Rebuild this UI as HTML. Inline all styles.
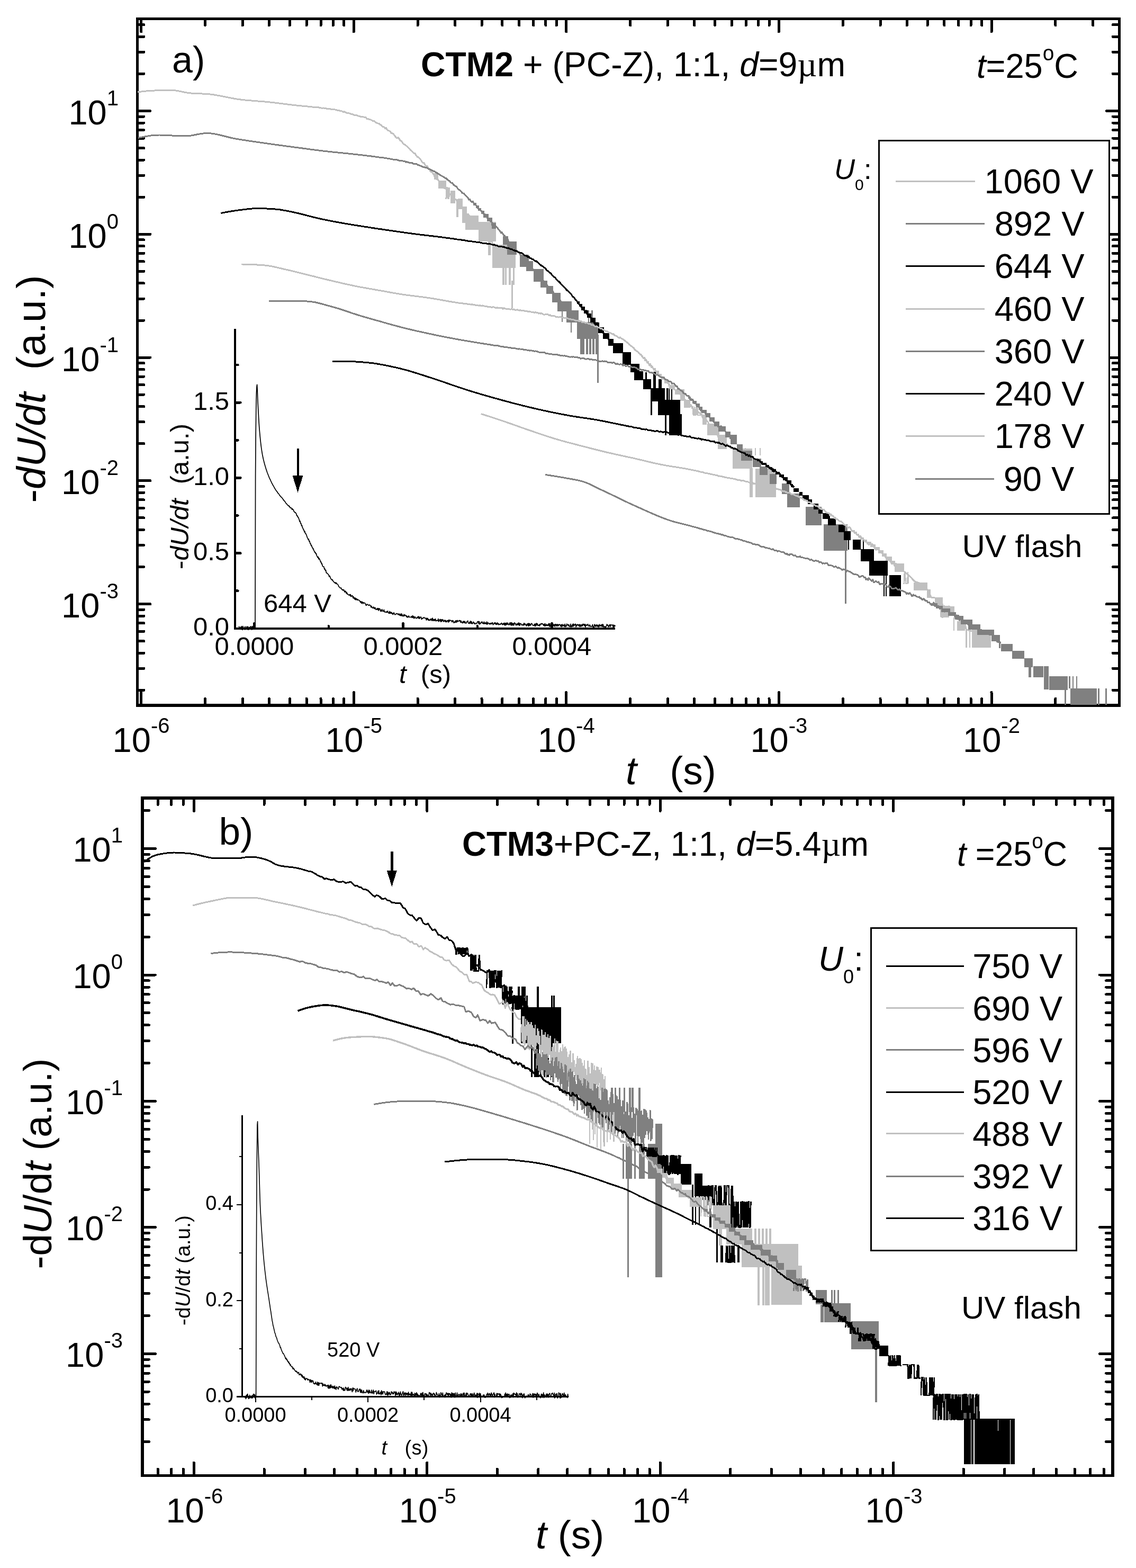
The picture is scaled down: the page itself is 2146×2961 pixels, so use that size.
<!DOCTYPE html>
<html><head><meta charset="utf-8"><title>Figure</title>
<style>html,body{margin:0;padding:0;background:#fff;overflow:hidden}svg{display:block}</style></head>
<body><svg width="2146" height="2961" viewBox="0 0 2146 2961" font-family='"Liberation Sans", Arial, Helvetica, sans-serif' fill="#000" shape-rendering="crispEdges">
<rect width="2146" height="2961" fill="#fff"/>
<rect x="259.5" y="35.5" width="1855" height="1296.3" fill="none" stroke="#000" stroke-width="5.5"/>
<path d="M266.6 1330v-22.5M266.6 37.2v22.5M387.5 1330v-10.5M387.5 37.2v10.5M458.2 1330v-10.5M458.2 37.2v10.5M508.4 1330v-10.5M508.4 37.2v10.5M547.3 1330v-10.5M547.3 37.2v10.5M579.1 1330v-10.5M579.1 37.2v10.5M606 1330v-10.5M606 37.2v10.5M629.3 1330v-10.5M629.3 37.2v10.5M649.8 1330v-10.5M649.8 37.2v10.5M668.2 1330v-22.5M668.2 37.2v22.5M789.1 1330v-10.5M789.1 37.2v10.5M859.8 1330v-10.5M859.8 37.2v10.5M910 1330v-10.5M910 37.2v10.5M948.9 1330v-10.5M948.9 37.2v10.5M980.7 1330v-10.5M980.7 37.2v10.5M1007.6 1330v-10.5M1007.6 37.2v10.5M1030.9 1330v-10.5M1030.9 37.2v10.5M1051.4 1330v-10.5M1051.4 37.2v10.5M1069.8 1330v-22.5M1069.8 37.2v22.5M1190.7 1330v-10.5M1190.7 37.2v10.5M1261.4 1330v-10.5M1261.4 37.2v10.5M1311.6 1330v-10.5M1311.6 37.2v10.5M1350.5 1330v-10.5M1350.5 37.2v10.5M1382.3 1330v-10.5M1382.3 37.2v10.5M1409.2 1330v-10.5M1409.2 37.2v10.5M1432.5 1330v-10.5M1432.5 37.2v10.5M1453 1330v-10.5M1453 37.2v10.5M1471.4 1330v-22.5M1471.4 37.2v22.5M1592.3 1330v-10.5M1592.3 37.2v10.5M1663 1330v-10.5M1663 37.2v10.5M1713.2 1330v-10.5M1713.2 37.2v10.5M1752.1 1330v-10.5M1752.1 37.2v10.5M1783.9 1330v-10.5M1783.9 37.2v10.5M1810.8 1330v-10.5M1810.8 37.2v10.5M1834.1 1330v-10.5M1834.1 37.2v10.5M1854.6 1330v-10.5M1854.6 37.2v10.5M1873 1330v-22.5M1873 37.2v22.5M1993.9 1330v-10.5M1993.9 37.2v10.5M2064.6 1330v-10.5M2064.6 37.2v10.5M261.2 1303.3h10.5M2112.8 1303.3h-10.5M261.2 1262.3h10.5M2112.8 1262.3h-10.5M261.2 1233.2h10.5M2112.8 1233.2h-10.5M261.2 1210.7h10.5M2112.8 1210.7h-10.5M261.2 1192.2h10.5M2112.8 1192.2h-10.5M261.2 1176.7h10.5M2112.8 1176.7h-10.5M261.2 1163.2h10.5M2112.8 1163.2h-10.5M261.2 1151.3h10.5M2112.8 1151.3h-10.5M261.2 1140.6h22.5M2112.8 1140.6h-22.5M261.2 1070.5h10.5M2112.8 1070.5h-10.5M261.2 1029.5h10.5M2112.8 1029.5h-10.5M261.2 1000.5h10.5M2112.8 1000.5h-10.5M261.2 977.9h10.5M2112.8 977.9h-10.5M261.2 959.5h10.5M2112.8 959.5h-10.5M261.2 943.9h10.5M2112.8 943.9h-10.5M261.2 930.4h10.5M2112.8 930.4h-10.5M261.2 918.5h10.5M2112.8 918.5h-10.5M261.2 907.8h22.5M2112.8 907.8h-22.5M261.2 837.7h10.5M2112.8 837.7h-10.5M261.2 796.8h10.5M2112.8 796.8h-10.5M261.2 767.7h10.5M2112.8 767.7h-10.5M261.2 745.1h10.5M2112.8 745.1h-10.5M261.2 726.7h10.5M2112.8 726.7h-10.5M261.2 711.1h10.5M2112.8 711.1h-10.5M261.2 697.6h10.5M2112.8 697.6h-10.5M261.2 685.7h10.5M2112.8 685.7h-10.5M261.2 675h22.5M2112.8 675h-22.5M261.2 605h10.5M2112.8 605h-10.5M261.2 564h10.5M2112.8 564h-10.5M261.2 534.9h10.5M2112.8 534.9h-10.5M261.2 512.3h10.5M2112.8 512.3h-10.5M261.2 493.9h10.5M2112.8 493.9h-10.5M261.2 478.3h10.5M2112.8 478.3h-10.5M261.2 464.8h10.5M2112.8 464.8h-10.5M261.2 452.9h10.5M2112.8 452.9h-10.5M261.2 442.3h22.5M2112.8 442.3h-22.5M261.2 372.2h10.5M2112.8 372.2h-10.5M261.2 331.2h10.5M2112.8 331.2h-10.5M261.2 302.1h10.5M2112.8 302.1h-10.5M261.2 279.6h10.5M2112.8 279.6h-10.5M261.2 261.1h10.5M2112.8 261.1h-10.5M261.2 245.5h10.5M2112.8 245.5h-10.5M261.2 232h10.5M2112.8 232h-10.5M261.2 220.1h10.5M2112.8 220.1h-10.5M261.2 209.5h22.5M2112.8 209.5h-22.5M261.2 139.4h10.5M2112.8 139.4h-10.5M261.2 98.4h10.5M2112.8 98.4h-10.5M261.2 69.3h10.5M2112.8 69.3h-10.5M261.2 46.8h10.5M2112.8 46.8h-10.5" fill="none" stroke="#000" stroke-width="5" stroke-linecap="round"/>
<rect x="269.2" y="1507" width="1832.6" height="1279.5" fill="none" stroke="#000" stroke-width="5.5"/>
<path d="M298.2 2784.8v-10.5M298.2 1508.8v10.5M323.7 2784.8v-10.5M323.7 1508.8v10.5M346.2 2784.8v-10.5M346.2 1508.8v10.5M366.4 2784.8v-22.5M366.4 1508.8v22.5M499 2784.8v-10.5M499 1508.8v10.5M576.5 2784.8v-10.5M576.5 1508.8v10.5M631.5 2784.8v-10.5M631.5 1508.8v10.5M674.2 2784.8v-10.5M674.2 1508.8v10.5M709.1 2784.8v-10.5M709.1 1508.8v10.5M738.6 2784.8v-10.5M738.6 1508.8v10.5M764.1 2784.8v-10.5M764.1 1508.8v10.5M786.6 2784.8v-10.5M786.6 1508.8v10.5M806.8 2784.8v-22.5M806.8 1508.8v22.5M939.4 2784.8v-10.5M939.4 1508.8v10.5M1016.9 2784.8v-10.5M1016.9 1508.8v10.5M1071.9 2784.8v-10.5M1071.9 1508.8v10.5M1114.6 2784.8v-10.5M1114.6 1508.8v10.5M1149.5 2784.8v-10.5M1149.5 1508.8v10.5M1179 2784.8v-10.5M1179 1508.8v10.5M1204.5 2784.8v-10.5M1204.5 1508.8v10.5M1227 2784.8v-10.5M1227 1508.8v10.5M1247.2 2784.8v-22.5M1247.2 1508.8v22.5M1379.8 2784.8v-10.5M1379.8 1508.8v10.5M1457.3 2784.8v-10.5M1457.3 1508.8v10.5M1512.3 2784.8v-10.5M1512.3 1508.8v10.5M1555 2784.8v-10.5M1555 1508.8v10.5M1589.9 2784.8v-10.5M1589.9 1508.8v10.5M1619.4 2784.8v-10.5M1619.4 1508.8v10.5M1644.9 2784.8v-10.5M1644.9 1508.8v10.5M1667.4 2784.8v-10.5M1667.4 1508.8v10.5M1687.6 2784.8v-22.5M1687.6 1508.8v22.5M1820.2 2784.8v-10.5M1820.2 1508.8v10.5M1897.7 2784.8v-10.5M1897.7 1508.8v10.5M1952.7 2784.8v-10.5M1952.7 1508.8v10.5M1995.4 2784.8v-10.5M1995.4 1508.8v10.5M2030.3 2784.8v-10.5M2030.3 1508.8v10.5M2059.8 2784.8v-10.5M2059.8 1508.8v10.5M2085.3 2784.8v-10.5M2085.3 1508.8v10.5M270.9 2722.8h10.5M2100.1 2722.8h-10.5M270.9 2680.9h10.5M2100.1 2680.9h-10.5M270.9 2651.1h10.5M2100.1 2651.1h-10.5M270.9 2628h10.5M2100.1 2628h-10.5M270.9 2609.1h10.5M2100.1 2609.1h-10.5M270.9 2593.1h10.5M2100.1 2593.1h-10.5M270.9 2579.3h10.5M2100.1 2579.3h-10.5M270.9 2567.1h10.5M2100.1 2567.1h-10.5M270.9 2556.2h22.5M2100.1 2556.2h-22.5M270.9 2484.4h10.5M2100.1 2484.4h-10.5M270.9 2442.5h10.5M2100.1 2442.5h-10.5M270.9 2412.7h10.5M2100.1 2412.7h-10.5M270.9 2389.6h10.5M2100.1 2389.6h-10.5M270.9 2370.7h10.5M2100.1 2370.7h-10.5M270.9 2354.7h10.5M2100.1 2354.7h-10.5M270.9 2340.9h10.5M2100.1 2340.9h-10.5M270.9 2328.7h10.5M2100.1 2328.7h-10.5M270.9 2317.8h22.5M2100.1 2317.8h-22.5M270.9 2246h10.5M2100.1 2246h-10.5M270.9 2204.1h10.5M2100.1 2204.1h-10.5M270.9 2174.3h10.5M2100.1 2174.3h-10.5M270.9 2151.2h10.5M2100.1 2151.2h-10.5M270.9 2132.3h10.5M2100.1 2132.3h-10.5M270.9 2116.3h10.5M2100.1 2116.3h-10.5M270.9 2102.5h10.5M2100.1 2102.5h-10.5M270.9 2090.3h10.5M2100.1 2090.3h-10.5M270.9 2079.4h22.5M2100.1 2079.4h-22.5M270.9 2007.6h10.5M2100.1 2007.6h-10.5M270.9 1965.7h10.5M2100.1 1965.7h-10.5M270.9 1935.9h10.5M2100.1 1935.9h-10.5M270.9 1912.8h10.5M2100.1 1912.8h-10.5M270.9 1893.9h10.5M2100.1 1893.9h-10.5M270.9 1877.9h10.5M2100.1 1877.9h-10.5M270.9 1864.1h10.5M2100.1 1864.1h-10.5M270.9 1851.9h10.5M2100.1 1851.9h-10.5M270.9 1841h22.5M2100.1 1841h-22.5M270.9 1769.2h10.5M2100.1 1769.2h-10.5M270.9 1727.3h10.5M2100.1 1727.3h-10.5M270.9 1697.5h10.5M2100.1 1697.5h-10.5M270.9 1674.4h10.5M2100.1 1674.4h-10.5M270.9 1655.5h10.5M2100.1 1655.5h-10.5M270.9 1639.5h10.5M2100.1 1639.5h-10.5M270.9 1625.7h10.5M2100.1 1625.7h-10.5M270.9 1613.5h10.5M2100.1 1613.5h-10.5M270.9 1602.6h22.5M2100.1 1602.6h-22.5M270.9 1530.8h10.5M2100.1 1530.8h-10.5" fill="none" stroke="#000" stroke-width="5" stroke-linecap="round"/>
<path d="M443.9 620.5V1186.8H1162" fill="none" stroke="#000" stroke-width="3.4"/>
<path d="M443.9 1186.8h10.5M443.9 1115.7h5.5M443.9 1044.6h10.5M443.9 973.5h5.5M443.9 902.4h10.5M443.9 831.3h5.5M443.9 760.2h10.5M443.9 689.1h5.5M480.4 1186.8v-10M620.9 1186.8v-4.5M761.4 1186.8v-10M901.9 1186.8v-4.5M1042.4 1186.8v-10" fill="none" stroke="#000" stroke-width="4.6" stroke-linecap="round"/>
<text x="433" y="1200.3" font-size="49" text-anchor="end">0.0</text>
<text x="433" y="1058.1" font-size="49" text-anchor="end">0.5</text>
<text x="433" y="915.9" font-size="49" text-anchor="end">1.0</text>
<text x="433" y="773.7" font-size="49" text-anchor="end">1.5</text>
<text x="480.4" y="1237" font-size="49" text-anchor="middle">0.0000</text>
<text x="761.4" y="1237" font-size="49" text-anchor="middle">0.0002</text>
<text x="1042.4" y="1237" font-size="49" text-anchor="middle">0.0004</text>
<text x="498" y="1155.5" font-size="49" text-anchor="start">644 V</text>
<text transform="translate(356.3,1075) rotate(-90)" font-size="49" xml:space="preserve">-<tspan font-style="italic">dU/dt</tspan>  (a.u.)</text>
<text x="754" y="1290" font-size="49" xml:space="preserve"><tspan font-style="italic">t</tspan>  (s)</text>
<path d="M457 2106V2637.5" fill="none" stroke="#000" stroke-width="3"/>
<path d="M446.5 2637.5H1074" fill="none" stroke="#000" stroke-width="2.6"/>
<path d="M457 2546.8h-5M457 2456.2h-10M457 2365.6h-5M457 2274.9h-10M457 2184.2h-5M482.5 2637.5v10M588.8 2637.5v6M695 2637.5v10M801.2 2637.5v6M907.5 2637.5v10M1013.8 2637.5v6" fill="none" stroke="#000" stroke-width="2"/>
<text x="441" y="2648" font-size="38" text-anchor="end">0.0</text>
<text x="441" y="2466.7" font-size="38" text-anchor="end">0.2</text>
<text x="441" y="2285.4" font-size="38" text-anchor="end">0.4</text>
<text x="482.5" y="2685" font-size="38" text-anchor="middle">0.0000</text>
<text x="695" y="2685" font-size="38" text-anchor="middle">0.0002</text>
<text x="907.5" y="2685" font-size="38" text-anchor="middle">0.0004</text>
<text x="618" y="2561.5" font-size="38" text-anchor="start">520 V</text>
<text transform="translate(359,2503) rotate(-90)" font-size="39" xml:space="preserve">-d<tspan font-style="italic">U</tspan>/d<tspan font-style="italic">t</tspan> (a.u.)</text>
<text x="720.5" y="2747" font-size="38" textLength="89" xml:space="preserve"><tspan font-style="italic">t</tspan>   (s)</text>
<g id="top-curves">
<path d="M260 174l8 -1.1 8 -0.9 8 -0.6 8 -0.4 8 -0.3 8 -0.1 8 -0.1 8 0 8 0.5 8 1.4 8 1.7 8 1.5 8 0.7 8 0.3 8 0.3 8 0.4 8 0.6 8 1 8 1.4 8 1.5 8 1.6 8 1.6 8 1.5 8 1.2 8 1 8 0.8 8 0.6 8 0.7 8 0.6 8 0.6 8 0.8 8 0.9 8 0.9 8 1 8 1 8 1 8 1 4 0.4 2.5 0.3 1.8 0.2 1.6 0.1 1.7 0.2 2 0.2 2.2 0.2 2.5 0.2 2.2 0.2 2.3 0.1 2.2 0.3 2.3 0.2 2.5 0.1 1.4 0.3 1.6 0.1 1.7 0.5 2.2 0.1 2.4 0.2 2.4 0.3 2.6 0 2.3 0.2 2.1 0.8 2.3 0.1 2 0.6 1.7 -0.7 2 0.7 2.2 -0.1 2.6 0.9 2.3 0 2.3 0.5 1.6 -0.2 1.4 0.5 2.4 0.1 2.5 0.5 1.4 -0.3 2 0.6 2 0.5 2.2 1.1 1.4 -0.2 2.5 0.4 2.3 1.2 2.3 -0.1 2 1.3 2.4 -0.3 1.5 0.9 1.7 0.8 1.7 0.8 2 -0.1 1.9 0.5 2.3 0.4 1.6 1.1 2 -0.2 1.6 0.9 2.3 1.3 2.6 0.6 2.1 -0.6 1.6 1.3 2 0.4 1.8 0.2 2.4 1.5 2.5 0.1 1.9 -0.2 1.8 0.7 2 0.6 1.7 -0.1 1.5 2.5 2.2 0.1 2.4 0.9 2.1 0.5 2.6 1.2 2.1 1.3 2.5 -0.1 2 2.4 1.8 0.9 2.3 1.1 2 0.7 1.6 0.1 1.7 2.1 2.4 0.8 2 2.8 2.5 0.2 2.5 3.3 2 -1.1 1.8 3.2 2.2 1.8 1.9 0.7 2 1 1.6 3.1 1.9 0.6 2.1 0.4 1.8 3.2 2.3 2.7 2.4 2.5 2.4 -0.9 2.5 2.5 1.6 2.8 2.5 1.2 1.8 3 2.3 3 2.5 0.7 1.5 1.9 1.6 0.7 1.8 1.9 2.1 1.6 1.5 2.2 1.6 1.8 2 1.9 2.2 1.6 2.5 2.8 2.1 -0.3 2.1 4.3 2.3 3 1.7 0.4 2.5 2.3 1.9 1.9 1.4 2.5 2.6 3.7 2.2 -0.1 2 3.9 2.2 2.4 2 0 2.5 5 2 0.5 1.5 4.4 2.1 1.7 2.1 1.4 2.6 4 1.9 4.8 1.7 -2 1.5 5.5 2 -0.2 1.9 3.1 1.5 1.2 2.2 2.5 2.3 4.4 2.2 1 1.9 4.5 1.4 0.7 2.5 0.3 2.4 4.6 1.6 2.6 1.8 2.1 2.1 1.6 1.8 -0.2 1.6 4.2 1.6 3.2 2.5 0.9 1.7 1.6 2.1 0.2 2 4.2 1.9 2.4 2.4 4.4 2.3 2.6 1.7 2.6 1.5 -2.3 1.6 3 2.5 5.6 2.4 3 2.6 3.9 1.5 -2.2 2 2.7 2 5.2 1.5 -3.4 1.8 4.3 1.9 1 2.1 5.3 2.2 -1.3 2.4 6.9 2.4 0.1 1.9 1.1 2.3 3.9 2.5 1.4 1.7 2 2.6 2.5 2.4 4.8 2.3 2.9 1.8 1.9 2.5 1.9 2.4 3 2.6 4.2 1.4 1.9 1.4 2.7 1.8 2.9 2.5 0.3 1.6 0.7 1.6 2.5 2.1 4.2" fill="none" stroke="#c0c0c0" stroke-width="3.0" stroke-linejoin="round"/>
<path d="M820 327H828V339H820ZM828 341H842.5V356H828ZM851 360H860V384H851ZM865 375H873.5V395H865ZM872.5 389.5H882V421H872.5ZM878.5 407H904V434H878.5ZM904 419H937V456H904ZM930 461.5H974V506H930Z" fill="#c0c0c0"/>
<path d="M842.5 376l1.1 -22 1 0 1.2 22 1.3 -22 1.1 22 1 -22" fill="none" stroke="#c0c0c0" stroke-width="2.3" stroke-linejoin="miter"/>
<path d="M864 376V410" stroke="#c0c0c0" stroke-width="3.5" fill="none"/>
<path d="M924.5 452V482" stroke="#c0c0c0" stroke-width="5" fill="none"/>
<path d="M951.2 500V537.5M955.6 500V537.5M962.8 500V537.5M970.4 500V537.5" stroke="#c0c0c0" stroke-width="3.5" fill="none"/>
<path d="M967.4 530V582" stroke="#c0c0c0" stroke-width="2.6" fill="none"/>
<path d="M261 260.5l8 -1.7 8 -1.5 8 -1.3 8 -0.8 8 -0.2 8 0.2 8 0.3 8 0.5 8 0.5 8 0.3 8 0.2 8 -0.4 8 -1.3 8 -1.6 8 -1.4 8 -0.8 8 0.3 8 1 8 1.6 8 2 8 2 8 2 8 1.6 8 1.3 8 1.3 8 1.2 8 1.2 8 1.2 8 1.1 8 1.1 8 1.2 8 1.1 8 1.1 8 1.1 8 1.1 8 1 8 1.1 8 1.1 8 1 8 1.1 8 1.1 8 1 8 1 8 0.9 8 0.9 8 0.9 8 0.8 8 0.8 8 0.8 8 0.8 8 0.9 8 0.9 8 0.9 8 1 7 0.8 2.3 0.3 1.6 0.2 1.4 0.2 1.8 0.2 2.1 0.3 1.9 0.2 2.3 0.4 1.6 0.3 2.5 0.3 2.6 0.3 2.6 0.4 1.4 0 2.3 0.3 2.1 0.4 1.5 0.2 2.6 0.4 2.1 0.5 2.2 0.3 2.3 0.7 2 0.1 2.1 0.5 1.6 -0.1 1.6 0.3 1.9 0.2 1.5 0.1 2.3 1 1.8 0.3 2.6 0.3 2.5 0.3 2.5 0.4 2.3 0.5 1.4 0.4 1.9 1.2 1.4 -0.5 1.5 0.5 2.2 0.8 2.6 0.4 2.2 0.6 1.9 -0.1 1.4 1.4 2.5 0.6 2.3 0.1 1.9 -0.1 1.7 1.2 1.5 0.6 2.2 0.6 2.6 1.2 2.1 0.9 2.4 1 1.6 -0.4 2.4 1.7 2.1 -0.3 2.6 1.7 2.3 1.4 1.5 -0.1 1.7 1.4 1.7 0.8 1.5 0.7 2.2 1.5 1.7 0 2.1 1.6 2.3 1 1.7 1.4 1.7 0.8 1.8 1.2 2.6 1.9 2.2 0.9 2.5 1.4 1.5 1.1 1.8 1.6 1.7 0.1 2.4 2.3 2.4 2.2 1.7 0.7 2.2 2.9 1.9 0.7 1.5 0.2 2.3 3.6 2.1 1.4 1.8 1.2 1.7 0.8 1.7 3.2 2.4 2.3 1.9 1.1 1.7 1.7 1.7 2 1.8 1.8 2.4 0.4 1.6 2.2 1.7 1.5 2.1 2.6 2.6 2.2 1.4 3.3 1.7 -0.6 2.2 3.8 1.7 0.3 2.5 1.2 2 3.1 2.1 1.6 2.2 2.7 2.2 3.4 1.7 1.4 1.4 1.1 2.1 1.8 2.5 2.1 1.9 3.5 2.4 2.3 1.9 -0.3 1.8 2.8 2.5 4.5 2.5 1.1 2.2 1.8 1.8 3.8 1.8 1.1 1.7 3.4 2.4 0.6 1.4 1.9 1.5 1.2 1.9 1.7 1.7 1.5 2.5 3.7 2.5 2.7 2.2 3.7 1.7 -1.3 2.5 4.9 2.6 1.6 2.1 4.1 1.7 2 1.7 0.5 2.2 4.8 2.3 2 1.9 1.4 2.2 4.2 1.9 -0.2 1.9 4.1 2.1 2 2.4 3.9 2 0 1.4 2.1 2 0.7 2 5.2 1.9 1.9 1.9 -0.7 2.3 4.8 1.6 0.7 1.4 2.4 2.3 2.6 2.4 6 1.7 1.5 2.2 2.5 1.4 0.5 1.7 -0.4 2 3.3 2.2 3.5 1.6 3.3 2 2.1 2.6 0 2 1.6 1.9 4.7 2.2 0.7 2.1 2 1.7 1.7 2.4 4.2 1.5 2.6 1.6 3.1 1.6 -0.2 1.9 2 1.5 2 1.9 2.1 2.4 -0.2 1.8 4.2 2.4 1.6 2.6 5.5 2.4 2.1 1.5 2.5 2.1 2.4 1.5 1.9 2.5 1.2 1.8 2.3 2.5 5.1 1.5 2 2.2 -1.9 2.4 6.4 1.4 0.6 1.8 4.1 1.4 -2.5 2.1 3.8 1.6 1.6 2.1 2.6 1.4 1.2 1.8 2.8 2.3 2 2.4 4.3 2 -0.3 2 1.4 1.5 3.5 1.8 -0.2" fill="none" stroke="#808080" stroke-width="3.0" stroke-linejoin="round"/>
<path d="M889.9 379.4H895.4V383.4H889.9ZM893.5 383.4H899.5V387.8H893.5ZM898.9 387.8H905.1V392.8H898.9ZM903.4 392.8H909.4V398.2H903.4ZM908.7 398.2H915.1V404.2H908.7ZM913 404.2H922.5V410.7H913ZM920.2 410.7H929.7V417.8H920.2ZM927.8 417.8H929.1V425.7H927.8Z" fill="#808080"/>
<path d="M929 420.7H937V432.4H929ZM950.4 446H960V461.5H950.4ZM958 455.7H975.7V481H958ZM981.5 481H999V504.4H981.5ZM994 492.7H1007V512H994ZM1007.8 508.3H1027.3V531.6H1007.8ZM1020.5 529.7H1034V543.3H1020.5ZM1032 540.4H1044.8V555H1032ZM1042.9 553H1059.4V570.5H1042.9ZM1052.6 568.6H1079.9V588H1052.6ZM1070 586H1092.5V608.5H1070ZM1089.6 608H1129.5V640H1089.6Z" fill="#808080"/>
<path d="M1112 586V610" stroke="#808080" stroke-width="2.5" fill="none"/>
<path d="M1118.5 586V610" stroke="#808080" stroke-width="2.5" fill="none"/>
<path d="M1097.5 636V669M1101.5 636V669M1108.5 636V669M1114.8 636V669M1120.7 636V669M1126.7 636V669" stroke="#808080" stroke-width="4" fill="none"/>
<path d="M1129.5 632V723" stroke="#808080" stroke-width="2.6" fill="none"/>
<path d="M1062 588V608" stroke="#808080" stroke-width="2.5" fill="none"/>
<path d="M1079 608V628" stroke="#808080" stroke-width="2.5" fill="none"/>
<path d="M417.5 402.5l8 -1.6 8 -1.4 8 -1.3 8 -1.1 8 -1 8 -1 8 -0.9 8 -0.6 8 -0.1 8 0.2 8 0.4 8 0.4 8 0.6 8 0.9 8 1.4 8 1.5 8 1.7 8 1.7 8 1.9 8 2.1 8 2.1 8 2.1 8 1.8 8 1.8 8 1.6 8 1.6 8 1.5 8 1.5 8 1.4 8 1.4 8 1.3 8 1.3 8 1.2 8 1.3 8 1.2 8 1.3 8 1.2 8 1.1 8 1.2 8 1.2 8 1.1 8 1.2 8 1.1 8 1.1 8 1.1 8 1.1 8 1 8 0.9 8 0.9 8 1 8 0.9 8 1 8 1.1 8 1 0.5 0.1 1.4 0.2 1.7 0.2 2.6 0.3 1.5 0.2 2.1 0.5 2.4 0.3 1.6 0.3 2 0.1 2.1 0.2 2.1 0.4 2.5 0.4 1.6 0.3 2.5 0.6 2.1 -0.1 2.1 0.5 2.5 0.4 2.4 0.8 1.5 0 2.1 -0.1 2.6 0.4 2.5 0.5 2 0 1.5 -0.1 2.2 1 2.3 -0.3 1.5 0.4 1.5 0.1 1.5 0.4 1.9 0.3 1.6 0.2 1.9 1 1.5 0 1.5 -0.3 1.8 0.4 1.6 0.1 2.4 0.8 1.5 0.4 1.7 -0.1 2.4 -0.1 2.3 1.2 1.5 0.2 1.9 0.4 1.9 -0.5 2.4 1.7 2.5 -0.4 2.4 1.9 1.6 0.1 1.4 0.3 2 0.4 2.2 0 1.6 0.2 1.7 -0.2 2.1 1.6 1.7 0.2 1.6 0.5 2.1 0.4 1.7 -0.1 2.4 1.5 2.5 0 2.1 1.4 1.8 0.9 1.5 -0.1 2.2 1.9 1.8 -0.3 2.4 1.2 1.5 1.6 2.2 0 1.6 1.1 1.6 -0.3 2.5 1.3 2.5 2.4 1.8 1.3 2 0.7 1.6 -0.3 2.4 2.8 1.6 -1.2 1.8 2.7 1.9 0.3 1.7 1.6 2.2 0 2 2.3 1.6 0.9 1.7 1.2 1.4 -0.5 1.8 2 1.9 1.3 1.4 1.5 2.2 1.9 2.3 2 2 0.9 1.8 1.8 2.1 1.4 1.7 0.7 2 3.6 1.7 1.2 1.7 1.1 1.4 1.4 1.9 1.3 1.6 1.3 2.4 3.5 1.9 1.4 1.9 2.1 1.9 0.7 2.2 3.3 2.2 2.5 2.2 1.5 2.5 2.5 1.5 1.7 1.6 2 2.5 2.2 2.3 2.7 1.4 1.2 2 2.4 1.8 2 1.5 1 1.6 1.3 1.7 2.1 1.6 1.1 2.5 3 1.8 3.7 1.7 0.8 1.6 1.4 2.3 3.9 1.9 1.3 2.4 3.6 2.4 3.2 2.3 2.3 2.4 4 2.2 1 1.4 0.6 2.6 6.4 2 -2 1.8 4.8 2 4 2 1.8 1.8 2 1.6 0.5 2 2.4 1.4 3 2 2.1 1.5 3.3 2.4 1.8 1.9 0.1 1.7 4.2 1.6 0.7 1.4 3.5 1.8 0.8 1.8 1.1 2.5 3.6 2.3 3 1.5 0.8 1.9 1.5 1.4 0.5 2.3 2.7 2.5 6.4 1.9 4.1 1.5 1.4 1.7 1.8 2.2 1.2 2.5 3.8 0.3 -2.1" fill="none" stroke="#000" stroke-width="3.0" stroke-linejoin="round"/>
<path d="M1089.5 568.7H1095V573.7H1089.5ZM1093.5 573.7H1099.6V579.3H1093.5ZM1098.2 579.3H1105.2V585.5H1098.2ZM1103.2 585.5H1110.9V592.4H1103.2ZM1109.2 592.4H1117.3V600H1109.2ZM1115.1 600H1125.2V608.6H1115.1ZM1122.6 608.6H1132V618H1122.6ZM1129.8 618H1141.3V628.5H1129.8ZM1138.6 628.5H1151.3V640.2H1138.6ZM1149 640.2H1158.7V653.2H1149Z" fill="#000"/>
<path d="M1158.4 647.6H1177V667H1158.4ZM1176 665H1191.5V688.5H1176ZM1190.5 686.5H1208V703H1190.5ZM1198.3 701H1214.8V717.7H1198.3ZM1214.8 715.7H1230.4V735.2H1214.8ZM1228.5 733.2H1255.7V757.6H1228.5ZM1243 754.6H1285V783.8H1243ZM1263.5 782H1288.4V822.4H1263.5Z" fill="#000"/>
<path d="M1220 703V716" stroke="#000" stroke-width="3" fill="none"/>
<path d="M1236 702V733" stroke="#000" stroke-width="5" fill="none"/>
<path d="M1247 716V733" stroke="#000" stroke-width="6" fill="none"/>
<path d="M1260.4 733V755M1264.1 733V755M1269.1 733V755" stroke="#000" stroke-width="2.5" fill="none"/>
<path d="M1230.5 757V784" stroke="#000" stroke-width="3" fill="none"/>
<path d="M1257.5 784V822.4" stroke="#000" stroke-width="2.5" fill="none"/>
<path d="M456.5 499l8 0.1 8 0.2 8 0.4 8 0.5 8 0.5 8 0.7 8 1.3 8 1.7 8 1.9 8 1.9 8 1.8 8 1.9 8 2 8 2 8 2 8 2 8 1.9 8 2 8 2 8 2 8 1.9 8 1.9 8 1.8 8 1.9 8 1.8 8 1.7 8 1.7 8 1.6 8 1.4 8 1.4 8 1.4 8 1.4 8 1.4 8 1.4 8 1.5 8 1.4 8 1.4 8 1.3 8 1.1 8 1 8 1 8 1 8 1 8 1.1 8 1.2 8 1.4 8 1.4 8 1.4 8 1.5 1.5 0.2 1.7 0.3 2.2 0.4 1.8 0.3 2.5 0.4 2.1 0.2 2.5 0.4 2.1 0.3 1.7 0.4 2.3 0.2 2.4 0.3 2.1 0 1.8 0.7 1.8 -0.1 1.5 0.3 1.8 0.2 2.3 0.3 2.4 0.6 2.5 -0.3 2 0.9 2.1 -0.4 1.5 0.4 2.6 0.5 1.8 0.3 1.6 0.5 1.8 0.4 1.5 -0.2 2.5 0.4 2.1 -0.3 2.4 1.1 1.9 -1 1.6 0.5 1.6 0.5 2.2 0.3 2.6 0.6 2.4 0.4 2.1 0 2.1 -0.1 2.5 1.6 2.5 -0.8 1.5 -0.1 2.1 0.7 1.4 0.9 1.6 0.3 1.5 -1 2.3 1.1 2.1 -0.1 1.4 0.3 2 -0.1 1.6 -0.5 1.6 1.7 1.5 -1.4 2.3 0.8 1.9 0.9 1.9 0.1 1.9 0.5 2.2 -0.5 2.4 0.8 2.4 -0.7 1.7 1.3 2.5 -0.9 2 0.8 1.6 1.2 2.3 -1.3 2.1 0.6 1.8 1 2.1 -0.6 1.8 0.9 1.6 0.1 1.9 -0.5 2.1 0.3 2.1 1.2 2.1 0.3 1.5 -0.4 1.9 1.2 1.9 -0.9 2.3 0.5 1.8 0.9 2.6 0.7 1.8 -0.2 1.9 0.7 1.4 -1 2.3 0.9 1.8 -0.1 2 1.8 1.6 -0.8 2 0.8 2.3 -0.4 2 1.5 2.1 0.9 2.1 -0.1 1.4 -0.2 1.8 -0.2 2.4 0.2 1.9 1.8 2.5 -0.9 1.7 1.6 2.5 -0.2 1.4 0.5 2.2 0.1 1.6 0.6 1.5 1.1 2.6 0.1 2.1 0.6 2.2 -0.2 1.7 -0.7 2.5 1.5 1.9 -0.1 1.6 0.9 1.4 -0.2 2.5 -0.1 2.5 0.4 1.4 1.1 2.5 0.7 2.4 0.2 1.6 1.3 1.9 0 1.6 -0.3 1.5 0.5 2.2 0.9 1.9 0.6 1.8 -0.2 2.1 0.2 2.3 0.4 1.7 1 1.6 -0.4 1.8 2 1.6 0.1 2.5 -0.2 2.6 1.6 2.5 -0.8 1.4 1.6 2.5 0.6 1.6 0 1.8 1.4 2.2 0.5 1.5 -0.1 2.2 1.6 2.4 1.7 2.1 -0.8 1.8 1.4 1.5 1.5 1.9 -0.2 2.5 2.4 2.4 -0.5 1.7 1.2 2.1 1.7 1.8 0.8 2.3 1.6 2.3 0 2.1 1.3 2.1 1.2 1.5 0.3 2.4 1.3 2.6 1.3 1.4 -0.3 2.3 2.7 2.6 0.9 1.7 0.6 1.7 2 2.4 1.3 1.8 -1.4 1.6 1.6 1.9 1.3 1.6 0.8 2.1 1.3 1.9 1.6 2 1.6 1.8 1.3 2.2 2 2.6 2.7 2.2 2 2.3 0.9 1.6 1.5 2.2 1.9 1.4 2.6 2.3 2 2 1.4 2.2 1.3 2.1 2.2 2.4 3.1 1.9 0.8 1.9 3.6 2.1 1.4 2.4 1.4 1.9 3.3 1.6 1.1 1.8 3.6 2.3 2.4 2.6 2.9 2 -0.2 2.5 4 1.6 2.1 1.9 0.9 2.1 3.1 2.3 3.3 1.9 1.2 1.5 2.2 1.7 -0.1 2.4 2.9 2.3 2 2.3 3 2.6 1.1 1.5 2.4 1.7 1.4 2.4 4.1 2.4 0.2 2.2 5.5 1.6 -0.5 1.6 0.2 2.1 1.4 1.8 4.1 2.1 1.1 2.1 1.3 1.9 0.8 2.1 4.3 2.4 0.3 2.2 2.3 1.9 1.2 2 1.4 1.8 3 1.5 2.4 1.5 2.1 1.8 1.4 1.5 0.5 2.1 5.2 1.5 -1 2.2 5.3 1.8 -1.7 2.6 6.1 2.2 1.4 2 2.4 2.3 -1.1 1.5 2.9 1.6 -1.5 1.6 4.3 2.4 0.8 2.1 1.8 2.1 0.4 1.7 6.7 1.6 -1.2 2.4 1.9 2.2 1.6 1.8 3.7 2.4 2.3 2 4.4 2.4 5.6 2 -0.4 1.8 -0.2 2.2 7 2.6 0.6 2.5 5.9 2.1 1 1.7 4.1 2.1 -0.5 2 2.1 2.1 6.1 2.3 2.2 2.2 -0.6 1.4 2.8 2.5 0 1.5 0.7 2.2 3.2 1.9 1.9 2.4 0.5 1.9 2.2 2.4 0.7 0.1 2.5" fill="none" stroke="#c0c0c0" stroke-width="3.0" stroke-linejoin="round"/>
<path d="M1204.7 664.8H1208.3V667.8H1204.7ZM1207.9 667.8H1212.2V671H1207.9ZM1211.1 671H1214.9V674.4H1211.1ZM1214.1 674.4H1218.7V678.1H1214.1ZM1217.1 678.1H1221.9V682H1217.1ZM1221.4 682H1226V686.1H1221.4ZM1225.2 686.1H1229.7V690.5H1225.2ZM1228.8 690.5H1234.1V695.2H1228.8ZM1233.6 695.2H1239.2V700.2H1233.6ZM1238.7 700.2H1245.1V705.6H1238.7ZM1242.9 705.6H1249.7V711.2H1242.9ZM1249 711.2H1255.7V717.3H1249ZM1254.5 717.3H1263.3V723.8H1254.5ZM1261.9 723.8H1263.2V730.7H1261.9Z" fill="#c0c0c0"/>
<path d="M1263.5 727.4H1275V735H1263.5ZM1275 735H1292.7V745H1275ZM1285 743H1293.7V756.6H1285ZM1291.7 754.6H1304.4V770H1291.7ZM1326.8 783H1334.5V802.3H1326.8ZM1335.5 800.4H1358.9V822.4H1335.5ZM1356 820.8H1372.5V848H1356ZM1384 846.7H1421V884.7H1384ZM1426.7 884.7H1465.6V938.6H1426.7Z" fill="#c0c0c0"/>
<path d="M1304.4 768.3l1.1 0 1.1 0 1.1 0 0.9 0 1.1 15.5 1.2 0 1 -15.5 1.1 15.5 1.1 0 1 -15.5 1.2 15.5 1.1 -15.5 0.9 15.5 1.2 0 1.1 0 1.2 0 1 0 1 0 1.1 -15.5" fill="none" stroke="#c0c0c0" stroke-width="2.3" stroke-linejoin="miter"/>
<path d="M1419 884V938.6" stroke="#c0c0c0" stroke-width="6" fill="none"/>
<path d="M1398.9 846V860M1408.3 846V860M1427 846V860M1435.7 846V860" stroke="#c0c0c0" stroke-width="2" fill="none"/>
<path d="M507.5 568l8 0 8 0 8 0.1 8 0.1 8 0.1 8 0.1 8 0.2 8 0.2 8 0.2 8 0.6 8 1.2 8 1.9 8 2.1 8 2.3 8 2.2 8 2.2 8 2.5 8 2.7 8 2.7 8 2.7 8 2.6 8 2.4 8 2.3 8 2.3 8 2.3 8 2.2 8 2.3 8 2.3 8 2.2 8 2.2 8 2.1 8 2.1 8 1.9 8 1.9 8 1.9 8 1.7 8 1.8 8 1.7 8 1.7 8 1.7 8 1.6 8 1.6 8 1.5 8 1.5 8 1.5 8 1.4 8 1.3 8 1.4 8 1.3 0.5 0.1 2.1 0.3 2 0.4 2.6 0.4 1.5 0.2 2.2 0.4 2.3 0.2 2.3 0.5 2 0.3 2.2 0.3 1.8 0.4 1.4 0.1 1.8 0.4 2.4 0.2 1.9 0.6 1.6 -0.1 2.4 0.6 1.7 0.3 1.9 0.2 1.7 0.1 1.5 0.3 1.5 -0.2 2.1 0.7 2.3 0.5 1.5 0.3 2.3 0.2 1.6 0 1.8 0.8 2.6 -0.2 2.4 0.5 2.4 0.6 2.4 -0.1 2.4 0.8 2.3 0.3 2.5 0.2 2.1 0.5 1.6 -0.3 2.4 0.9 1.6 0.4 1.9 0.3 1.7 -0.7 1.8 1 2.5 0 2.1 -0.1 2.1 1 2.6 -0.4 1.4 0.7 1.7 0.3 2.2 0.2 2.2 0.3 1.9 0.8 1.6 -0.6 2.3 0.5 2.5 0.5 1.8 1.1 2.1 -1.1 1.5 0.9 1.5 0.1 1.5 0.4 2.4 1 2.5 -0.1 2.5 0.3 1.9 0.2 1.5 0.3 2 -0.1 1.9 1.4 2 0.3 2.1 0 2.1 1 1.8 0.2 2 0 1.7 0.3 2.4 0.3 2.2 0.6 1.8 -0.3 2.2 -0.1 1.8 0.3 1.9 0.8 2 -0.2 1.5 1.5 1.8 -0.6 2.1 0 2.2 1 2.1 -0.7 2.3 1.2 2.2 -0.3 2.4 1.3 1.4 -0.3 2.2 1.1 1.6 -0.6 2.5 0.2 1.4 -0.3 2.5 0.4 1.7 0.2 1.6 0.5 2.2 -0.1 2.2 0.4 2.2 0.6 1.9 1.5 1.5 -0.4 1.9 0 2.3 -0.6 1.6 1 1.7 0.7 2.6 0 2.6 -0.9 1.6 0.9 2.3 1.1 1.5 -0.8 2.2 0.7 2 0.6 1.5 -0.3 1.7 0.5 1.6 -0.2 2.1 1.2 2.1 -0.7 2.1 2 1.8 -0.1 1.7 0.6 1.6 -0.5 1.7 -0.3 1.4 0.8 2.6 -0.7 2.3 0.8 1.4 -0.5 1.9 2 2.3 -0.1 1.8 0.1 2.3 0.2 2 1.1 2.2 -1.2 1.9 0.7 1.6 1.3 1.9 1.5 1.6 -1 2.1 0.6 1.9 0.8 2.3 -0.3 2.5 0.1 2.4 2.4 1.6 -2 1.5 1.3 1.6 1.7 2.1 -0.2 2 -1.1 2.5 2.4 1.6 -0.1 1.7 0 1.7 0.6 2.2 0.6 1.7 -0.1 2.4 0.5 1.6 0.1 2.4 2 1.8 1.7 2.1 -0.8 1.5 0.2 2.4 1.4 2 0.1 2.4 0 2 0.7 1.9 0 1.9 1.5 1.6 -0.4 2.1 0.4 1.7 2.5 2.4 0.3 1.8 -0.7 1.8 1.9 1.9 -1 1.9 2.3 2.2 1.9 2.6 -0.3 1.8 0.8 1.7 1.1 2.6 2.1 2.4 0.8 2.3 0.3 1.8 0 2.4 3.5 2.3 0.6 2.4 0.3 1.6 2.5 1.9 1 2.5 -0.5 2.6 4.4 1.6 -0.9 2.5 0.9 1.7 2.6 1.8 2.3 1.8 -0.4 1.8 5.2 1.6 -0.4 2.3 2.5 2.3 1.2 2.1 1.4 1.8 3 2.2 1.1 1.7 0.4 1.6 2.5 2.5 1.9 1.4 -0.8 1.5 1.9 2.3 5.9 1.7 -1.2 1.4 2.2 1.5 -0.8 2.3 6.1 1.7 -0.4 1.8 0.6 1.9 6.4 2.1 -1 2.6 3.3 2.5 4.5 1.6 0.8 1.4 0.9 2.6 2.3 2.5 -0.2 1.9 4.7 2 1.2 1.6 1.1 1.5 0.7 2 1.5 1.6 5.4 1.8 -0.8 2.1 1.1 1.6 2.6 2.3 2.3 2.5 4.4 1.9 -0.5 1.9 3.3 1.6 -0.4 2.1 2 1.9 -2.2 1.7 4.7 2.3 4.3 2.3 -2.6 2.4 4.3 2 3.4 2.2 2.5 2.1 0.2 2.2 3.5 0.7 3.3" fill="none" stroke="#808080" stroke-width="3.0" stroke-linejoin="round"/>
<path d="M1299.7 748.7H1305.1V752.7H1299.7ZM1303.8 752.7H1309.8V757.2H1303.8ZM1308.3 757.2H1316.3V762.1H1308.3ZM1315 762.1H1321.6V767.6H1315ZM1319.8 767.6H1326.9V773.7H1319.8ZM1325.1 773.7H1335.2V780.3H1325.1ZM1333 780.3H1342.3V787.7H1333ZM1339.7 787.7H1350V795.8H1339.7ZM1348.6 795.8H1359.3V804.7H1348.6ZM1356.8 804.7H1371V814.6H1356.8ZM1369.5 814.6H1380.2V825.7H1369.5Z" fill="#808080"/>
<path d="M1380 821.4H1391.7V839H1380ZM1391.7 839H1403.4V852.6H1391.7ZM1399.5 850.6H1420.9V870H1399.5ZM1421.8 866H1438.4V881.8H1421.8ZM1434.5 880.8H1450V897.3H1434.5ZM1454 895.4H1466.6V913.9H1454ZM1477.3 912.9H1491V933.3H1477.3ZM1486.7 932.4H1511.4V958H1486.7ZM1522 957.3H1552.3V991.7H1522ZM1556.2 989.8H1601V1040.4H1556.2Z" fill="#808080"/>
<path d="M1597.6 1035V1139.7" stroke="#808080" stroke-width="2.6" fill="none"/>
<path d="M627.5 682l8 0 8 0.1 8 0.2 8 0.2 8 0.3 8 0.4 8 0.6 8 0.7 8 0.8 8 0.9 8 1.3 8 1.4 8 1.6 8 1.7 8 1.7 8 1.9 8 2 8 2.2 8 2.4 8 2.5 8 2.5 8 2.6 8 2.6 8 2.5 8 2.7 8 2.7 8 2.8 8 2.8 8 2.8 8 2.7 8 2.6 8 2.6 8 2.5 8 2.4 8 2.4 8 2.3 8 2.3 8 2.3 8 2.2 8 2.2 8 2.2 8 2.1 8 2.2 8 2 8 2.1 8 1.9 8 1.9 8 1.9 8 1.8 8 1.8 8 1.7 8 1.7 8 1.6 8 1.6 8 1.5 8 1.5 8 1.3 8 1.3 8 1.2 8 1.1 8 1.2 8 1.2 8 1.5 8 1.5 8 1.6 2.5 0.5 2.3 0.5 1.5 0.3 2 0.5 1.9 0.4 2.6 0.6 1.7 0.2 2.3 0.5 2.2 0.4 1.8 0.4 2.2 0.3 2.1 0.7 1.9 0.3 1.5 0.2 2.5 0.5 1.9 0.4 2 0.5 1.9 0.2 2 0.3 1.7 0.6 1.8 0.3 2.2 0.3 1.5 0.2 2.5 0.9 1.6 0.5 1.8 0 1.6 0.6 1.6 0.1 2.4 0.4 2.2 0.2 2.2 0.4 1.8 0.4 1.5 1.3 2.4 -0.3 1.8 0.1 1.8 0.8 1.4 -0.7 2.4 0.5 1.6 1.1 1.8 0.2 2 0.4 2.2 -0.5 1.7 1.6 2.4 -0.3 2.4 0.8 2.5 -0.3 1.9 -0.6 2.3 0.8 2.3 1.3 2.4 -0.8 2.2 0.5 1.6 0.9 1.6 -0.1 1.8 -0.6 2 -0.3 2.4 0.5 2.6 2 2.3 0 2.1 -0.9 1.6 2.2 1.5 -1.6 1.4 1.7 1.7 1.7 2 -2.2 2.3 0.9 2.3 0.8 2.1 1.1 1.6 -0.5 1.9 -0.5 1.7 2 1.4 0.1 2.2 0.3 1.8 0.4 2.3 0.2 2.4 0.7 2 0.8 2.3 -0.2 1.9 -0.9 1.8 1.5 2.5 1.7 2.3 -0.9 1.6 0.3 1.8 1.4 2.5 0.1 2.3 0.7 1.5 -1.5 2.5 1.7 1.8 -0.6 1.8 2.6 1.7 -1.7 2.4 1.2 2.3 0.6 1.5 0 2.4 0.8 2.4 -0.6 1.6 0.8 1.9 1.1 1.7 0.9 2.5 -0.8 2.2 1 1.5 -0.5 2.4 2.5 2 -1.1 2 1.6 2.1 -0.9 2.3 1.7 2.4 1.1 2.5 -0.9 1.5 1.7 1.7 0.7 2.5 2.2 2.2 -1.5 2.4 1.1 2.4 1.8 1.6 -0.9 2.2 3 2.5 -0.3 1.9 2.5 2.1 -1.3 1.8 1.3 2 0.8 2 1.6 2.1 1.5 1.9 1.1 2.2 1.1 2 0.8 2.4 0.3 2.4 0.6 2.3 3.8 2.5 -1.1 2.3 2.8 2 -1.6 1.5 2.9 1.8 0.2 2.3 -0.6 2.1 3.2 2.2 1.4 2.2 0.7 1.6 0 2.3 0.6 1.4 0.8 2.4 3 1.8 0.1 2.1 4.6 2.3 0.3 2.5 -0.6 2.4 1.4 2.3 3.1 1.6 1.2 2 0.5 1.9 0.9 1.7 2.9 1.8 -0.1 2.2 -0.3 1.5 4.5 2.2 -1.9 2 2.3 1.5 2.7 2.5 1.1 1.9 -0.6 1.5 1.8 2 2.4 2.3 3 2.4 1.4 2.5 2.4 2.5 2.7 2.3 0.8 2.5 1.7 2.2 2.5 2.3 3.9 1.5 -1.4 2.4 4.5 1.5 -1.7" fill="none" stroke="#000" stroke-width="3.0" stroke-linejoin="round"/>
<path d="M1429.7 867.7H1435.9V870.7H1429.7ZM1435.4 870.7H1441.3V874.1H1435.4ZM1439.8 874.1H1447.8V877.7H1439.8ZM1445.7 877.7H1453.3V881.7H1445.7ZM1451.6 881.7H1459.3V886H1451.6ZM1458.4 886H1465.5V890.7H1458.4ZM1464.6 890.7H1472.6V895.8H1464.6ZM1472.4 895.8H1481.2V901.3H1472.4ZM1478.9 901.3H1487.7V907.2H1478.9ZM1486.3 907.2H1494.7V913.6H1486.3ZM1493.5 913.6H1498.3V920.3H1493.5Z" fill="#000"/>
<path d="M1498.7 921.7H1509.4V929.4H1498.7ZM1510.4 928.5H1516.3V936.3H1510.4ZM1516.3 935.3H1528V944H1516.3ZM1526 943H1533.8V951.8H1526ZM1536.7 950.8H1546.4V961.6H1536.7ZM1546.4 961.6H1554.2V970.3H1546.4ZM1554.2 969.3H1567.8V980H1554.2ZM1564 979H1578.5V991.7H1564ZM1584 990.8H1596V1005.4H1584ZM1594 1003.4H1606.8V1020H1594ZM1610.7 1019H1626.2V1038.4H1610.7ZM1626.2 1036.5H1650.6V1059.9H1626.2ZM1642.4 1058.5H1676.8V1087.1H1642.4ZM1680 1085.5H1702.4V1125.7H1680Z" fill="#000"/>
<path d="M1603 1020V1038.4" stroke="#000" stroke-width="2.5" fill="none"/>
<path d="M1631 1020V1036.5" stroke="#000" stroke-width="2.5" fill="none"/>
<path d="M1670 1085V1125.7" stroke="#000" stroke-width="2" fill="none"/>
<path d="M1674 1085V1125.7" stroke="#000" stroke-width="2" fill="none"/>
<path d="M908.6 781.5l8 2.5 8 2.6 8 2.6 8 2.7 8 2.6 8 2.8 8 2.7 8 2.9 8 2.8 8 2.9 8 2.7 8 2.8 8 2.7 8 2.7 8 2.7 8 2.6 8 2.6 8 2.4 8 2.3 8 2.2 8 2.1 8 2.1 8 2.1 8 2.1 8 2 8 2.1 8 2 8 2 8 2 8 1.9 8 1.8 8 1.8 8 1.7 8 1.8 8 1.7 8 1.7 8 1.9 8 1.8 8 2 8 1.9 8 1.9 8 1.7 8 1.6 8 1.4 8 1.4 8 1.2 8 1.3 8 1.3 7.4 1.4 1.7 0.3 1.7 0.4 2 0.4 2.1 0.3 1.5 0.4 2 0.4 2.3 0.6 2.1 0.3 2 0.5 2 0.4 2.3 0.8 2.1 0.3 2.6 0.7 1.7 0.1 2.4 1 2.1 0.3 2.2 0.2 2.3 0.7 1.7 0.6 1.8 0 1.8 0.7 2.1 0.3 1.8 0.4 1.6 0.6 1.6 0 2.4 0.6 1.9 0.2 1.5 0.5 2.5 1.1 1.7 -0.2 1.7 0.4 2.3 0.1 1.5 1 1.8 -0.3 2.4 1.1 2.6 0.2 1.5 0.8 2.5 0.5 2.5 0.1 1.9 0.6 2.4 0.3 1.9 0 2.1 1.1 1.9 -0.5 1.8 1.2 2 0.2 1.9 1.3 2 -0.7 2.1 0.2 2.1 1.7 1.4 -0.4 1.7 -0.3 1.5 0.4 2.4 0.8 1.7 0.7 2.1 0.3 1.7 0.3 2.1 1 2.3 0.5 2.3 0.7 1.9 -0.6 2 1.8 2 -0.4 1.6 0.1 2.6 0.9 2.2 0.8 1.6 0.3 1.7 0.6 1.7 0.2 2.6 -0.1 2.5 1.3 2.6 0.7 2.2 -0.7 1.9 0.5 1.9 0.9 1.9 2.1 2 -0.6 2.3 1.4 2 1 2.5 -0.8 1.6 0.8 2 -0.8 2.3 2 2.2 -0.4 1.6 1.5 2.2 -0.5 2.2 1.3 2.3 2.1 2.5 0.5 1.8 -1 1.6 2.3 1.5 -0.9 2.3 2.3 1.8 -0.8 1.8 0.5 1.7 0.3 2.5 3 2.3 -0.5 1.6 0.6 1.6 0.7 2.4 1.4 2.4 0.7 2 0.6 2.4 1.3 1.5 0.7 1.9 1.1 2.5 0.7 2.4 2.1 1.6 1.6 1.6 -0.6 1.8 1 1.5 1.3 2.4 2 2.2 -0.2 2.1 1 2 2.1 1.8 1.1 2.5 1.2 2 0.1 1.7 1.9 2.6 -0.4 2.2 2 2.5 1.9 1.9 1.9 2.1 0.5 2.1 0.7 1.4 -0.1 2 2.4 2.3 3 1.8 0.9 2.4 0.6 1.6 0.2 1.7 4.1 1.6 -2.7 1.7 2.7 1.5 0.6 1.5 0.8 1.9 3.5 1.6 -1 2 3.5 1.9 -0.3 2.4 2.3 1.8 1.2 1.6 0.4 2.2 0.7 2.3 2 1.9 3.5 1.7 0.4 2.1 0.6 1.8 1.6 1.8 3.4 1.4 -0.4 2.4 -0.7 2.2 2.9 1.9 4.9 1.8 -1.2 2.4 2.3 1.6 1.5 1.7 0 1.7 3.4 2.2 1.1 1.4 1.1 1.7 2.9 2.3 -0.5 2.4 2.4 2 1 2.4 3.3 1.8 1.9 2.3 1.3 2.2 1.9 1.6 2.7 1.5 0.3 1.5 -3 1.7 1 2.3 1 2 1.5 2 4.6 1.6 3.4 2 1.2 1.9 -1 2.3 -0.3 1.6 4.3 1.4 -0.1 2.6 0.4 2.4 4.9 2.4 2.9 1.5 0.5 2.3 3 1.6 1.8 2.4 -0.3 1.7 2.3 1.4 1.6 2.4 3.8 1.8 -0.9 2.5 1.5 2.5 5.4 0 -2.2" fill="none" stroke="#c0c0c0" stroke-width="3.0" stroke-linejoin="round"/>
<path d="M1609.8 1001.2H1615V1004.2H1609.8ZM1613.3 1004.2H1618.8V1007.5H1613.3ZM1617.2 1007.5H1622.6V1011H1617.2ZM1621.4 1011H1626.8V1014.7H1621.4ZM1625.4 1014.7H1632.3V1018.8H1625.4ZM1630.9 1018.8H1637.8V1023.1H1630.9ZM1636.8 1023.1H1646.1V1027.8H1636.8ZM1644.4 1027.8H1654.1V1033H1644.4ZM1652.9 1033H1661.6V1038.7H1652.9ZM1659.2 1038.7H1669.1V1044.8H1659.2ZM1665.8 1044.8H1675.4V1051.4H1665.8ZM1673 1051.4H1684.9V1058.5H1673ZM1683.1 1058.5H1690.6V1066.1H1683.1Z" fill="#c0c0c0"/>
<path d="M1690 1063.8H1707.7V1080.3H1690ZM1726 1099.8H1751.5V1115.4H1726ZM1750.5 1113.4H1758.3V1129H1750.5ZM1766 1128H1780.7V1144.6H1766ZM1788.5 1144.6H1803V1156H1788.5ZM1808 1172.8H1822.5V1191.3H1808ZM1836 1189.3H1872V1223.4H1836Z" fill="#c0c0c0"/>
<path d="M1705.7 1101.8l1.1 0 1.1 0 0.9 -21.8 1 0 1.1 21.8 1.2 0 0.9 0 1 0 1.2 -21.8 1 21.8M1776.8 1144.6l0.9 21.4 1.1 -21.4 1.2 21.4 1 0 0.9 -21.4 1.1 21.4 1 -21.4 1.1 21.4 0.9 -21.4 1 21.4 1.2 -21.4 1.1 21.4 1.2 -21.4 1.1 21.4 1.1 -21.4 0.8 0" fill="none" stroke="#c0c0c0" stroke-width="2.3" stroke-linejoin="miter"/>
<path d="M1802 1166V1191" stroke="#c0c0c0" stroke-width="2.5" fill="none"/>
<path d="M1825.5 1189V1223.4" stroke="#c0c0c0" stroke-width="2.5" fill="none"/>
<path d="M1832 1189V1223.4" stroke="#c0c0c0" stroke-width="2.5" fill="none"/>
<polyline points="1690.0,1064.0 1693.0,1064.8 1706.7,1078.4 1716.4,1086.2 1728.0,1097.9 1743.7,1103.7 1751.5,1113.4 1759.3,1128.0 1778.7,1131.0 1780.7,1144.6 1800.0,1146.5 1804.0,1168.0 1821.6,1173.8 1825.5,1189.3 1835.0,1191.3 1870.0,1191.3" fill="none" stroke="#c0c0c0" stroke-width="3"/>
<path d="M1030 896.5l8 1.1 8 1.3 8 1.3 8 1.3 8 1.5 8 1.4 8 1.4 8 1.7 8 2.1 8 2.9 8 3.6 8 4 8 4 8 3.7 8 3.8 8 3.9 8 3.8 8 3.9 8 3.9 8 3.8 8 3.6 8 3.6 8 3.6 8 3.6 8 3.5 8 3.5 8 3.4 8 3.1 8 2.9 8 2.6 8 2.2 8 2 8 2 6 1.5 2.1 0.6 2.1 0.5 2.3 0.7 2.2 0.6 2.4 0.6 2.2 0.6 1.6 0.4 1.4 0.5 1.7 0.4 2.3 0.7 1.4 0.6 1.8 0.2 2.1 0.7 2.3 0.6 2.3 0.9 2.4 0.2 1.6 0.8 2.2 0.6 2.5 0.6 1.6 0.4 2.3 0.4 2.4 0.9 2.1 0.8 2.2 0.6 1.7 0.7 2.5 0.6 1.5 -0.1 2.1 0.7 1.9 0.8 1.8 -0.1 2.5 1.6 1.6 -0.2 2.4 1.3 1.8 0.4 1.5 0.2 1.5 0.3 2.2 1.2 1.6 0.5 1.7 0.1 1.6 0.6 1.9 0.3 2.2 0 1.7 0.3 1.9 1.2 2.3 1.3 1.5 -0.1 1.7 0 1.8 0.4 1.6 1.1 1.8 -0.1 2.6 0.5 2.5 1.3 1.5 0.7 2.1 0.1 1.8 0.7 1.9 0.7 1.5 0.5 1.9 0.1 2 1.2 1.5 0 2.3 0.7 2 1.7 1.8 0.5 1.7 -0.2 2.2 0.8 1.8 0.8 2.1 -0.5 1.8 0.7 2.1 1.2 2.5 1.6 1.5 0.7 1.6 -0.2 1.8 -0.2 1.6 0.9 1.5 1 2.5 -0.1 1.6 0.7 1.6 0.5 2.6 -0.3 2 1.9 2.6 0.8 1.9 -0.9 2.3 2.5 2.2 0.6 2.2 -0.6 2.2 2 2.5 -1.1 2 1.2 1.8 0.7 1.8 0 2.2 0.1 1.7 0.8 1.8 2.4 2.6 1 1.4 -1.1 1.6 2.2 2.6 0.7 1.4 -1.6 1.6 -0.1 2.1 0.3 2 1.4 1.5 0.9 2.3 -0.2 1.9 1.5 2.2 1.5 1.8 -0.7 2 0.2 1.6 -1.1 1.5 2.3 2.5 -0.2 2 0.7 2 0.9 2.3 0.1 1.6 0.6 2.1 0 2.5 1 2.2 2 2.2 -1.3 2.2 1.8 2.4 0.9 2 0.1 2 -1.2 2.6 1.8 2.2 -0.7 1.9 3 2.2 -0.9 2.1 1.4 2.3 1.9 1.4 -1 2.3 0.9 2.3 -1.1 2.3 -0.1 2.2 4 2.5 0 1.5 0.1 2.1 0.6 2.4 1.1 1.8 2 2.2 -1 2.4 -0.1 2.3 2.7 2.3 -0.9 2.1 1.6 2.2 1 2.5 2.4 2.3 -1.8 2.5 0.6 1.9 0.9 1.4 2.8 2.1 -1.6 2.6 1.6 1.8 0.2 2.3 1.7 2.1 1.6 1.5 0.7 1.6 0.9 2.3 0.1 1.8 0.4 2.2 0.6 1.9 1.8 2.3 2.6 1.6 -0.8 1.6 -0.7 2.1 -0.9 1.5 0.2 2.4 3.4 1.6 -0.8 1.4 4.1 2.3 -1.3 1.6 2.4 1.5 -3.7 2.6 2.4 1.6 2.1 1.5 1 1.9 -2.4 1.6 4.6 1.9 -0.3 2.4 -2 2.6 2.6 2.3 -1 2.5 5 2 -0.9 2.3 0 2.3 0 2.4 0.4 2.2 1.1 1.7 3.1 2.4 1.5 1.6 -3 1.6 1.7 1.5 0 1.5 2.6 2.1 1.8 2.4 -0.3 2 -0.8 2.3 -0.9 1.6 1.3 1.8 1.9 1.5 0.1 2 -0.5 2.6 3.1 1.9 -0.6 2.1 1 2.5 1 2.5 1.1 1.4 3.5 2.1 -2.1 2 1.6 2.3 -1.6 2 2.4 1.5 3.1 1.4 0.3 1.8 -2.8 2.3 2.2 1.7 -0.5 1.9 2.3 2.6 0.4 2.5 -0.2 1.5 2.6 1.8 0.1 2.6 2.8 2.4 -2.1 2 2.3 1.7 1.9 2.5 -0.1 1.7 3.3 2.5 -0.8 2.4 3.9 1.7 -0.9 2.2 1 2.4 -3 1.4 6.2 2.2 0.8 2 -1.3 2 0.9 1.7 -0.3 2.6 5.5 2.4 -2.3 2.2 3 2.4 -0.4 1.5 5 1.7 -0.9 2.5 0.3 2.6 -2.7 1.7 3.9 2.1 1.2 1.4 0.8 2.5 2.4 2.2 1.6 1.6 -1.3 1.8 3.9 2.6 -2.3 1.4 0 2.4 0.1 1.9 9.1 2.1 -4 2 0.8 2.4 6.1 1.4 1 2.5 -2.5 1.5 4.1 2.1 -4 2.2 7.2 1.5 -4.1 2.4 2.9 1.9 -0.3 2.5 2.6 1.9 5.9 2.6 -3 1.7 -2.1 2.3 1.5 1.5 4 2.2 2.7 2.5 1.1 1.6 -1.5 1.7 2.4 2.4 -1.8 2 3.8 2.2 -0.8 1.9 0.6 1.5 2.2 2 -3.1 2.5 6.1 1.6 -0.5 2.2 -0.9 2.3 5.2 2.5 -1 2.1 5.4 1.7 -2 1.7 6.7 1.7 1 1.6 -0.5 2.3 0.4 1.6 0.4" fill="none" stroke="#808080" stroke-width="3.0" stroke-linejoin="round"/>
<path d="M1757.9 1138.7H1771.4V1143.7H1757.9ZM1767.8 1143.7H1780.9V1149.4H1767.8ZM1778.2 1149.4H1794.7V1155.6H1778.2ZM1790.9 1155.6H1805.6V1162.6H1790.9ZM1803.5 1162.6H1819.7V1170.4H1803.5ZM1815.1 1170.4H1836.9V1179H1815.1ZM1829.1 1179H1852.2V1188.5H1829.1ZM1846 1188.5H1878.3V1199.1H1846ZM1872.8 1199.1H1889V1211.1H1872.8ZM1886.9 1211.1H1890.3V1223.9H1886.9Z" fill="#808080"/>
<path d="M1890.6 1215.6H1913V1230.2H1890.6ZM1912 1229.3H1934.5V1243.8H1912ZM1935.4 1242.9H1951V1260.4H1935.4ZM1943.2 1260.4H1948V1278.9H1943.2ZM1952 1258.4H1971.4V1278.9H1952ZM1972.4 1258.4H1981V1302.2H1972.4ZM1981.5 1277H2016.7V1302.5H1981.5ZM2022 1300H2072V1331H2022Z" fill="#808080"/>
<path d="M2020.5 1277V1300M2026.8 1277V1300M2033.7 1277V1300" stroke="#808080" stroke-width="2.4" fill="none"/>
<path d="M2012 1302V1331" stroke="#808080" stroke-width="3" fill="none"/>
<path d="M2075.5 1300V1331" stroke="#808080" stroke-width="3" fill="none"/>
<path d="M2089.5 1300V1331" stroke="#808080" stroke-width="3" fill="none"/>
</g>
<g id="bottom-curves">
<path d="M272.5 1627.5l8 -6 8 -4.5 8 -2.8 8 -1.6 8 -1.3 8 -0.9 8 -0.4 8 0.1 8 0.5 8 0.7 8 0.7 8 1.2 8 1.8 8 2 8 1.8 8 1.5 8 0.7 8 0 8 0 8 0 8 0 8 -0.1 8 -0.9 8 -1.2 8 -0.7 8 0.2 8 1.3 8 1.9 8 2.4 8 3.7 8 4.7 8 2.4 8 1.3 8 0.9 8 0.9 7.5 1.2 3.7 0.8 3.8 0.8 2.9 0.9 4.9 1.4 4.5 1.4 3.4 1 3.2 0.1 3.2 1.3 3.1 1.7 3.6 2 3.5 2.5 5.1 2.2 4 1 4.4 4 2.9 -1.4 4.3 1.7 3.9 0.9 3.5 0.2 3.2 -1.1 3.8 3.4 4.2 1.7 4.9 -0.1 4.3 -0.8 4.6 2.9 5.1 -1.1 4.5 -1.3 4.1 4.2 4.7 3.9 3.2 -0.6 4.6 2.8 2.9 0.2 3.1 3.3 4.6 0.4 5.1 2.3 5.1 4.9 4.6 4.3 3.7 2.9 3 -3.1 3.1 0.6 3.1 2.1 3.9 4.1 3.5 -0.1 2.9 -0.7 4 3.4 4.3 1 4.4 3.3 3.9 -0.2 3.7 1.8 3.5 -0.6 4.9 0.3 5.2 8.5 3.9 1.8 4.9 9.4 4.1 2.7 4.1 0.6 4.9 6.1 3.5 3.7 4.9 -5.4 3.7 1.6 3.8 8.4 4.7 3 4.4 -2.1 4 6.6 4.7 6.3 4.2 -1.8 2.8 3.5 3.8 6.9 4.4 0.8 2.8 3.1 4.9 3.4 4.8 -3.6 3.1 5.7 4.4 1.3 4.6 4.9 5 15.6 4.8 -1.8 3.7 6.6 3.9 4.2 3.3 -0.6 5.2 -4.9 3 5.6 5 -3.5 3.4 3.4 4 19.3 3 -2.7 3.1 4 4.6 5.2 4.3 1.9 4.4 3 2.8 -0.5 3.6 -4.6 4.4 9 3.5 6.2 5.1 8.5 4.7 3.9 2.9 -1.8 4 5.8 3.8 -2.3 4.1 10.2 3 5.8 2.9 -4.3 3.5 6.8 2 -8.4" fill="none" stroke="#000" stroke-width="3.0" stroke-linejoin="round"/>
<path d="M984 1901.6H1060V1969.7H984Z" fill="#000"/>
<path d="M859.5 1790.6l1.1 0 1 11.7 1 0 1.2 -11.7 0.9 0 1 0 0.9 11.7 1.3 -11.7 1.1 0 0.9 11.7 1.1 -11.7 1.3 11.7 1.1 -11.7 1.1 0 1.1 11.7 1.3 -11.7 1.2 11.7 1.2 -11.7 1 11.7 1.1 -11.7 0.9 0 1 0 1.2 11.7M886.7 1804l1.2 0 0.9 0 0.9 29.4 1.3 -29.4 1.2 29.4 1 -29.4 0.9 0 1.3 29.4 1 0 1.1 -29.4 1.1 0 0.9 29.4 1 0 1.1 0 1.2 0 1.2 0 0.9 -29.4 1 0 1.2 29.4M917.9 1864.6l1.2 0 1.2 -31.2 1.1 0 1 0 0.9 0 0.9 0 1.2 31.2 1.3 0 1.3 -31.2 1.2 31.2 1.2 -31.2 1 31.2 0.9 -31.2 1.3 31.2 0.9 -31.2 1.3 0 1.2 0 1 31.2 1.1 0 1.1 -31.2 0.9 31.2 1.1 -31.2 1.2 31.2 1 -31.2 1 31.2 1.3 0 1 -31.2 1.3 0M949 1862.6l1 33.1 1.4 0 1 -33.1 1.1 33.1 1.2 -33.1 1.1 0 1.3 33.1 0.9 -33.1 1.2 33.1 1.1 0 1 0 1 -33.1 1 33.1 1 -33.1 1 33.1 1.2 -33.1M966.5 1905.5l1.1 0 0.9 -25.5 1.3 25.5 1.3 -25.5 0.9 0 1.2 25.5 1.1 -25.5 1 25.5 0.9 0 1.3 -25.5 1 25.5 0.9 0 1 -25.5 1.2 25.5 0.9 -25.5 1.3 25.5 0.9 -25.5 1.3 25.5 1.3 -25.5 1.3 0 1.2 25.5 1 0 1.1 -25.5 1 25.5 1.2 0 1.3 -25.5 1.2 25.5 0.9 0 1.2 0 1.3 0 1.2 0 1.2 0 1 0" fill="none" stroke="#000" stroke-width="2.4" stroke-linejoin="miter"/>
<path d="M980.4 1862.6V1882M987.4 1862.6V1882M990.9 1862.6V1882" stroke="#000" stroke-width="4" fill="none"/>
<path d="M1016 1862.6V1902" stroke="#000" stroke-width="4" fill="none"/>
<path d="M1042.2 1880V1902M1046.2 1880V1902" stroke="#000" stroke-width="3" fill="none"/>
<path d="M968.5 1905V1971" stroke="#000" stroke-width="3" fill="none"/>
<path d="M1004.1 1969V2034M1010.1 1969V2034M1013.3 1969V2034M1016.7 1969V2034M1021.4 1969V2034M1028 1969V2034M1032.2 1969V2034M1035.9 1969V2034M1042 1969V2034" stroke="#000" stroke-width="3" fill="none"/>
<path d="M364 1710l8 -2.1 8 -2 8 -1.9 8 -1.7 8 -1.6 8 -1.7 8 -1.7 8 -1.4 8 -0.8 8 -0.1 8 0 8 0 8 0 8 0 8 0.6 8 1.2 8 1.7 8 1.8 8 1.9 8 1.6 8 1.6 8 1.7 8 1.7 8 1.8 8 1.8 8 2 8 2 8 2.1 8 2.1 4 1 3.7 0.9 4.3 1 3.2 0.8 4.5 1.2 4.1 0.5 3.5 1.2 3 0.2 3.4 0.7 3.6 0.4 3.9 1.2 4.3 1.3 5.2 1.7 4.4 1.1 3.7 1.3 3.9 2 5 0.7 4.1 1.7 4.7 2 4.6 0.8 3.9 1 2.9 2 5.1 -0.1 4.8 1.7 4 2.9 4 0.1 2.9 2.5 3.5 1.4 4 -0.9 5.1 1.6 3 1.3 4.1 0.4 4.9 1.5 5 2.7 3 2.5 4.9 0.8 3.3 2.3 4.5 0 5 0.7 4.1 3.7 3 0.6 3.8 0.4 4.9 4.4 4.1 3.6 3.3 -1.5 3.5 4.2 5.2 0.1 4.1 5.4 5.1 -1.2 3.6 6.7 3 -3.5 4.9 2.9 4.6 3.7 3.8 2.1 4 2.5 3.1 1.2 4.2 2.3 5.2 3.7 3.2 0 3.6 4.8 4.2 1.3 4.7 -1 4.9 7.4 4.9 4.2 2.9 0.7 2.9 3.2 4.7 5.2 5.2 3 3.6 3.7 4.5 0.1 4.9 12.5 3.2 0.7 3.6 2.7 5.1 -2 4.8 0.9 3.5 2.8 2.9 1.3 5 10.5 3.9 3.3 3.1 1.2 5 4 3.7 -0.6 4 1.6 5.1 8.8 3.4 7.6 4.7 -2.2 3.1 -3.8 3.6 13.7 3.8 -10.2 4.4 10.8 3.5 4.6 2.9 2.9 2.9 0.7 4.7 9 3.8 3.2 3.6 -0.4" fill="none" stroke="#c0c0c0" stroke-width="3.0" stroke-linejoin="round"/>
<path d="M984 1949.9l1 -15.5 1.4 32.6 1.1 -47.9 1 52 1 -52 1.4 56.1 1 -4.5 1 -46.4 1.1 40 1.1 -22 1 -14.8 1.4 53 1.1 -50 1.3 52 1.3 -48.6 1 42.8 1.3 -46.4 1.3 49.6 1.3 -43.6 1 38.3 1.2 -33.6 1.2 45 1.3 -50.5 1.3 46.9 1.2 -27.7 1 14.5 1.1 -27.6 1.3 30.6 1.2 -25.1 1 35 1 -26.1 1.3 42.7 1 0.7 1.2 -55 1 38.8 1.2 -28.7 1.2 48.6 1.1 -49.4 1.2 38.5 0.9 -43.2 1 56.3 1.4 -47.2 1.1 50.5 1.3 -55.6 1 44.9 1.2 -37.9 1.2 31.9 1.4 -35.9 1.2 57.9 1.2 -22.1 1.4 -14.8 1.3 25.4 1.1 -28 1.1 34.7 1.1 -48.1 1 59.9 1.2 -17.7 1.2 -38.2 1 57.4 1.5 -56.2 1.1 55.8 1.3 -35.1 1.4 41.4 1 -49.8 1.4 28 1 -21.6 1 31.1 1 -43.6 1.2 53.2 1.4 -48.5 1.1 38 1.4 -38.9 1.1 52.9 1 -49 1.3 61 1.3 -44.7 1.2 46.3 1.2 -51.7 1.1 48.4 1.2 -55.2 1 56.6 1.3 -34.5 1.3 41.3 1.4 -58.1 1.1 34.1 1.2 -21.3 1 24.7 1.3 2.1 1 -19.7 1.4 30.3 1.1 -45.3 1.1 40.5 1.2 -35.5 1.4 57.2 1.1 -58.5 1.3 48.9 1.1 -47.4 1.1 62.3 1.2 -55.2 1.3 40 1 3.9 1.4 -49 1.1 61.6 1.4 -44.8 1.3 47.2 1.5 -22.3 1.3 -39.9 1 57.3 1.1 -45.3 1.3 42.5 1 -31.1 1.2 39.3 1.4 -58.8 1.1 59.5 1.4 -58.3 1 46.3 1 -24.6 1.1 -18 1 44.1 1.2 -35.4 1.1 28.1 1.2 -34.5 1.4 45.5 1.1 -44.8 1.1 34.4 1.3 -29.3 1 5.4 1.5 33.2 1 -42.8 1 59.7 1.4 -47.9 1 48 1.3 -37.4 1.1 28.1 1.1 -34.9 1 42.8" fill="none" stroke="#c0c0c0" stroke-width="2.2" stroke-linejoin="miter"/>
<path d="M1115.1 2050V2118.8M1119.5 2050V2133M1124.1 2050V2141.7M1128.2 2050V2149.6M1132.9 2050V2116.2M1136 2050V2131.9M1140.6 2050V2157" stroke="#c0c0c0" stroke-width="2.4" fill="none"/>
<path d="M398.5 1800.5l8 -0.9 8 -0.8 8 -0.5 8 -0.3 8 0 8 0.2 8 0.4 8 0.5 8 0.6 8 0.6 8 0.6 8 0.8 5.5 0.6 4.2 0.6 4.3 0.5 4.8 0.7 5.3 0.5 4.2 0.7 5.5 1.1 5.8 1.9 4 0.1 5.2 0.9 5.6 1.9 5.2 1 4.2 1.4 3.4 1 4.5 1.7 3.2 -0.8 3.5 0.4 4.7 2.7 5.5 0.8 3.5 0.1 5.1 1.7 5.7 1.6 4.5 3.8 4.7 0.2 4.3 2 3.8 -0.1 5.4 1 3.6 1.3 4.9 1 3.5 0.8 3.9 -0.6 4.9 3.4 4.4 -1.2 4.8 2.3 4.8 -1.3 4.6 1.5 5.3 1.9 4.3 0.6 5.1 4.5 3.2 1.1 5.7 1 3.4 -2.3 3.2 3.4 5.5 0 3.6 0.2 4.5 2.4 5 1.8 3.9 -2 3.5 3.7 4 0 5.3 1.5 5.1 1.8 3.3 -2 4.1 6 3.9 -4.1 3.8 5.1 4.2 0.4 4.9 -2.6 3.4 1.7 5.2 2.3 5.5 3.9 3.4 -1.1 5.8 2.3 3.7 -2.3 5.1 5.5 4.1 0.1 4 6.6 4.5 -1.7 4.6 1.9 5.5 2.2 4.8 -4.3 5.4 4.2 4.3 4.6 5 2.8 4.4 -3.7 3.2 6.5 5.1 1 3.9 2.8 5.8 2.6 5.3 -1 4.8 2.3 5.3 0.3 5.3 1.1 5 1.3 3.3 9.8 4.8 -2 5.5 2.8 4.7 8.1 4.2 1.8 3.2 -5 4.5 10.6 5.1 -1.9 5.8 1.4 3.8 5.5 3.3 -4.9 3.7 4.8 3.4 -0.7 3.6 -0.8 3.4 5.9 4.6 7 5.9 1.7 5 4.7 4.9 6 4.9 1 4.7 4.3 4.9 0.9 3.2 7.1 3.5 1.6 3.8 3.6 3.4 1.1 4 6.2 5.4 -7 4 4.3 4.8 -2 4.6 11.7 4.1 -6.6 0.3 15.1" fill="none" stroke="#808080" stroke-width="3.0" stroke-linejoin="round"/>
<path d="M1013 2017.7l1.1 -29 1.1 22.9 1.2 -22.4 0.9 32.4 1.1 -32.2 1.3 35.8 1 -33.9 1.2 36.5 1.1 -31.4 1.2 24.9 1 -34 1.3 42.8 1 -39.3 0.9 22.6 1.2 7.5 1.1 -29.8 1.3 43.8 1.2 -45 1 40.1 1 -10.8 1 -18.4 1.4 29.2 1.3 -22.4 1.2 32.2 1.1 -36.5 1.1 28.9 1.3 -35.4 1 46.4 1.1 0 1.3 -38.9 1.2 23.1 1.3 -30.8 1 38.4 1.2 -38.5 1.2 32.2 1.3 14.1 1.3 -38.5 1.1 32.8 1.1 -19.5 1.3 38.6 1.3 -48.8 0.9 39.7 1 -32.6 1.1 46.4 1.1 -4 1.2 -32.3 1 41.5 1.1 -55.8 1.1 58.9 0.9 -56.8 1.3 57.7 1.2 -15.1 1.3 -28.5 0.9 -2.5 1.2 4.1 1.1 49.6 1 -59.5 1 46.5 1 -40.4 1 54.3 1.4 -55.8 1 50.2 1.1 16.1 1.2 -58.7 1.3 16.9 1.3 31.7 1.3 -32.1 1 49.9 1.3 -66.5 0.9 38.2 1.4 -31.3 1.4 37.6 1.2 -34.9 1 46.9 1.1 -41 0.9 50.5 0.9 -45.8 1.4 43.4 1.1 -57.5 1.2 66.7 1.3 -64.7 1 48.2 1 -31.2 1.2 51.7 1.3 -65.6 1.2 70.3 1 -67.3 1.3 66.3 0.9 -54.8 1 49.7 1.3 -49.5 1 57.4 1 -54.8 1 58.6 1.3 -27.2 1.2 -43.7 1.2 48.5 1.3 -48.3 0.9 42.2 1 33.5 1.2 -67.3 1 54.1 1 -57.6 1.2 69.6 1.2 -47.6 1 49.9 1.4 -46.8 1.1 46.9 1 -4.6 0.9 -65 0.9 74.5 1.1 -66.7 1.1 62.5 1 -68.4 1.1 58.8 1.3 -58.6 1.2 64.4 1.1 -63.2 1.2 78.3 1 -57.1 1.3 54.9 1 -18.4 1.3 -42.7 1.3 65.8 1.1 -76 1.3 76.2 1.1 -74.3 1.1 6.5 1.4 68.2 1 -55.8 1.2 58.1 1.1 -8.2 1 -64.9 1.1 65 1.2 -62.5 1.2 76 1.3 -70.6 1 59.9 1 -55.5 1.3 -2.9 1.1 58.4 1.3 -46.6 1 59.4 1.3 -70.4 1.4 70.5 1.1 -21.5 1 -32.4 1.1 47.6 1.1 -43.4 1 56.9 1 -74.3 1.1 2.4 1.3 71.8 1.1 -49.8 1.2 53.5 1 -64.9 1.1 65.5 0.9 -68.9 1.2 68.1 1.2 -48.6 1.3 34.7 0.9 -54.1 1.3 47.5 1.4 -35.6 1.2 54.6 1.1 -65.3 1.2 13.9 1.1 -12.5 1.2 67.1 1.3 -64.3 1.1 49.5 1.2 -52.8 1.3 8.7 1 59.4 1.2 -64.5 1.1 61.4 0.9 -53.6 1.3 56.5 1 -66.7 1 54 1.2 -53.8 1.3 48.6 1.3 -46.7 1.1 39.1 1.4 -25.6 1.3 42.3 1 -39.4 1.3 23.6 1 -40.2 1 59 1.3 -43.5 1 39.5 1.3 -37.9" fill="none" stroke="#808080" stroke-width="2.4" stroke-linejoin="miter"/>
<path d="M1156.1 2054V2100M1162.4 2054V2100M1170.6 2054V2100M1179.5 2054V2100M1190.1 2054V2100M1195.1 2054V2100M1208.2 2054V2100" stroke="#808080" stroke-width="3.5" fill="none"/>
<path d="M1176.3 2160H1179.2V2226H1176.3ZM1182 2160H1193.8V2226H1182ZM1197.7 2160H1200.6V2226H1197.7ZM1207.4 2160H1218V2226H1207.4ZM1224 2160H1251V2226H1224ZM1237.6 2122H1251V2412H1237.6Z" fill="#808080"/>
<path d="M1186.4 2200V2412" stroke="#808080" stroke-width="2.8" fill="none"/>
<path d="M562.5 1909l8 -2.9 8 -2.5 8 -1.9 8 -1.5 8 -1.2 8 -0.9 8 0 8 0.7 8 1.1 8 1.5 8 2.1 8 2.1 8 1.9 8 1.7 8 1.8 8 1.9 8 2 8 2.3 8 2.5 8 2.5 8 2.5 8 2.3 8 2.3 8 2.3 8 2.3 8 2.3 8 2.3 8 2.3 8 2.2 5.5 1.6 2.3 0.6 2.7 0.9 3 0.8 3.2 1.1 3.3 0.7 2.5 0.7 3.2 1.2 2.9 1 3.1 1.2 2 0.3 2.5 0.9 2.5 0.3 3.2 2.3 2.9 0.5 2.8 0.8 2.4 0.4 2.5 0.3 3.3 2.3 2.4 0.9 1.9 0.1 3.3 2.1 3.2 1.5 2.9 -0.9 2.8 3.1 2.9 0.8 2 0.3 2.2 -0.1 3.1 1.8 3 -0.9 2 2 2.8 -0.2 2.6 1.7 2.5 0.1 2 1 2.5 -1.6 3.4 2.6 2.8 -1.1 2.1 2.1 3.2 0.3 3.3 1.4 3.3 0.1 1.9 1.7 2.9 1 3.2 1.9 2.6 2.7 2.7 0.8 2.1 -1.1 2.7 2.3 2.9 0.2 3.2 2 2.6 2.9 2.5 -1 2.6 0.6 2.2 3.5 2.6 -1.1 2.1 2.8 2.7 0.4 2.7 1.2 2.5 0 2.3 0.2 3.2 2.2 3.3 5.5 3.1 1.4 2.6 -0.6 1.9 -1.6 2.8 4.5 3 -2.5 3 1.2 3.1 5.6 2 -2.3 2.7 4.5 2.7 0.4 2 -0.1 3 1.6 2.3 3.1 2.7 0.4 2.1 3.2 2.5 2.1 3.2 0.2 3.4 3.8 1.9 0.3 1.9 -0.8 3.1 2 2.9 4.6 2.5 2.5 2.6 1.5 2.4 1.9 2.8 0.4 1.9 3 2.9 0 3.3 1.3 2.7 3.2 2.5 0.3 2.9 -0.3 3.2 1.1 2.1 5.6 3.3 0.1 2.1 3.8 1.8 -0.2 2 -1.2 2.1 2.2 2 1.8 2.9 -1.4 3.1 5.2 2.5 0.9 2 -5.5 2.8 3.3 3 2.1 1.9 -1.4 2 5.2 1.9 2.7 3.2 0.1 3.2 3.1 2.8 1.8 2.7 5.4 2.7 1 2.1 -4.9 2.3 4 2.8 -2 2.3 8 3.1 3.1 2.4 -5.4 2.9 6.9 2.2 3.9 3.1 -0.8 2.7 1.6 2.6 4.1 2.8 2.3 3.1 1.1 2 1 2.7 -2.4 2.9 5.4 2.1 1.6 1.9 4 3.1 0.4 3.3 9.5 3 0 1.9 4.2 2.8 0.6 2.1 2 3.3 -0.9 3 5 2.2 -3.3 2.1 2.4 3.3 5.6 3.2 4 3.1 2.2 2.3 -1 2.4 4.7 2.1 -2.9 2.8 10.8 3.2 -0.9 2.6 -0.4 2.8 1.6 2.5 -0.3 3.1 12.1 2.9 -6.8 3.2 5.9 3.4 -0.5 3.3 -2.7 3.3 2.9 1.8 5.2 2.8 3.3 3.2 0.7 2.4 -4.9 3.3 6.1 2.7 6 3.2 8.7 1.6 -7.1" fill="none" stroke="#000" stroke-width="3.6" stroke-linejoin="round"/>
<path d="M1241.5 2182.4H1251V2198H1241.5ZM1286 2198H1305.7V2237H1286ZM1311.6 2216.4H1327V2259H1311.6ZM1327 2238.8H1339V2266H1327Z" fill="#000"/>
<path d="M1218 2166.8l1.1 0 1.1 0 1 0 1 17.5 1.2 0 1.1 -17.5 1.2 17.5 1.2 -17.5 1.2 17.5 1.1 -17.5 1.3 17.5 1.1 -17.5 1.2 17.5 0.9 0 0.9 -17.5 1.1 17.5 1.1 0 1.1 -17.5 1 17.5 1 0 1.2 -17.5M1251 2182.4l0.9 35 1.3 -35 1 0 1.1 35 1.1 -35 1.2 35 1.3 -35 0.9 0 1 35 1.1 -35 1 35 0.9 0 1 0 1.3 -35 1.2 35 1.2 -35 1.1 0 1 35 0.9 -35 1 0 1.2 35 1.2 -35 1.3 35 0.9 -35 1.1 35 1 -35 1.2 35 1 0 1.1 -35 0.9 0 1 35 1.1 -35M1337 2275.8l0.9 -37 1.1 0 1 37 1.1 -37 1.3 37 0.9 -37 1.3 37 0.9 -37 1.3 0 0.9 37 1.1 0 0.9 0 1 -37 1.2 0 1.2 0 1.1 37 1.1 0 1.1 0 1.3 -37 1.2 37 1 -37 1.3 37 1.1 -37 1.3 37 1.2 0 1.3 0 1.2 0 1.2 -37 1 0 1.1 37 1.2 0 1.2 -37 1.2 0 1.1 0 1.2 0 1 37 1.2 0 1 0 1.1 0 1 -37 1 37 1.1 -37 1 37M1380.7 2317.6l1 -48.6 0.9 48.6 1.3 -48.6 1.1 0 1 48.6 1.2 -48.6 1.2 48.6 0.9 0 1.1 -48.6 0.9 48.6 1.1 -48.6 1.3 48.6 1.1 -48.6 1.3 48.6 1.3 0 1.1 0 1.1 -48.6 1.2 48.6 1 -48.6 1.1 0 1 48.6 1.2 -48.6 1 48.6 1.3 -48.6 1.1 48.6 1.3 -48.6 1.1 48.6 1.3 -48.6 1.1 48.6 0.9 -48.6 0.9 0 1.3 48.6 1 0 1.2 -48.6" fill="none" stroke="#000" stroke-width="2.2" stroke-linejoin="miter"/>
<path d="M1308.6 2237V2313M1313.9 2237V2313M1320.9 2237V2313" stroke="#000" stroke-width="2.8" fill="none"/>
<path d="M1354.8 2321V2384" stroke="#000" stroke-width="3" fill="none"/>
<path d="M1361 2351.7H1366V2383.8H1361ZM1393 2351.7H1397V2383.8H1393Z" fill="#000"/>
<path d="M1371 2383.8l1.1 -32.1 1.3 32.1 1.3 -32.1 0.9 32.1 1 0 1 0 1 -32.1 1.3 32.1 1.1 0 1.1 -32.1 1.3 32.1 1 -32.1 1.2 32.1 1.3 -32.1 0.9 32.1 1.1 0" fill="none" stroke="#000" stroke-width="2.2" stroke-linejoin="miter"/>
<path d="M1341.9 2276V2318M1353.8 2276V2318M1360.4 2276V2318M1365.8 2276V2318M1375.4 2276V2318" stroke="#000" stroke-width="3.5" fill="none"/>
<path d="M629 1965l8 -2 8 -1.9 8 -1.3 8 -0.9 8 -0.5 8 -0.4 8 -0.3 8 -0.2 8 0.1 8 0.6 8 0.9 8 1.1 8 1.3 8 2.1 8 2.6 8 2.8 8 2.7 8 3 8 3.1 8 3.1 8 3 8 2.8 8 2.5 8 2.5 8 2.5 8 2.7 8 3 8 3.3 8 3.5 8 3.5 8 3.5 8 3.3 8 3.2 8 3.2 8 3.2 8 3 8 2.9 8 2.7 8 2.6 8 2.8 8 2.9 8 3.3 8 3.6 8 3.6 8 3.4 8 3 3 1 3.2 1.2 2.8 1 2.3 0.9 2.4 0.7 3.1 1.2 3.3 1.8 2.5 0.6 2.2 1.4 1.9 1.1 2.7 1.3 2.2 1.3 2.3 0.9 1.9 -0.1 2 2.7 1.9 -0.6 2.5 1.3 2.6 2.5 2.9 -0.2 2.3 0.9 2.8 1.5 2.9 1 2.2 3 3.1 0 2.8 2.2 2.5 0.3 2.4 2.8 2.4 1.1 2.2 1.4 2.9 0 2.5 3.8 3.1 1.4 1.8 -0.5 2.3 2.4 2.2 2.2 2 -1.4 2.7 4.3 1.8 -1.6 2.7 3.2 2.5 0.6 2.1 1.1 2.3 0.5 2.7 0.6 3.1 2.2 2.9 0.9 3 0.4 2.9 1.8 3.2 4 3 1.5 2.2 -0.4 3.1 5 2.8 1.3 3 2.7 1.9 -1 2.8 1.4 2.4 3.7 3.1 0.7 2 0.4 2.9 0.7 2.7 -1 2.7 3.5 1.9 0.3 2.9 3.7 1.9 0.3 2.2 0.4 2.5 2.4 2.8 1.7 3.1 3.5 2.4 4.7 1.9 -1.7 1.8 2 2.8 0.6 3 -0.9 3.2 8.7 2.2 -3.7 2.3 2.2 2.9 4.4 2.5 4.7 2.4 -3.5 2.6 2.3 2.4 2.7 3.1 2 2.5 1.9 2.9 -0.7 2.9 6.4 2.7 -2.2 3.2 3.1 3 4.1 2.7 2.5 2.6 1.8 2.1 0.9 3 8 2.1 2.5 1.8 -3.6 1.8 2.3 2.7 7.3 2.9 -1.5 2.2 2.1 2.6 5.2 2.5 1.8 1.9 2.9 1.9 0.4 2.3 5.1 1.8 -2.4 2.8 6.7 3.1 0.3 2.8 3.4 1.8 -0.7 2.8 5.4 2.6 3.7 2.9 0.7 2.7 3.5 1.8 3 2.1 -2.2 2.9 8 2.7 0.4 1.9 -1.4 2 -2.3 2.5 3.6 3 6.1 3 -4.2 2 5.6 2.2 2.8 2.8 1 3 3.9 2 -1.6 2.1 1 2 3.3 2.4 3.7 0.6 0.1" fill="none" stroke="#c0c0c0" stroke-width="3.4" stroke-linejoin="round"/>
<path d="M1241.2 2207H1251.9V2215H1241.2ZM1250.7 2215H1261V2224.3H1250.7ZM1258 2224.3H1272.8V2234.8H1258ZM1267.3 2234.8H1288.2V2247H1267.3ZM1282.1 2247H1306.8V2261.3H1282.1ZM1302.5 2261.3H1324.6V2278.6H1302.5Z" fill="#c0c0c0"/>
<path d="M1113.7 2100V2160.3M1120.9 2100V2152.8M1128.1 2100V2166.7M1134.7 2100V2171.3M1141.3 2100V2165.1M1147 2100V2157.1M1153.1 2100V2152.2M1159.3 2100V2155.6" stroke="#c0c0c0" stroke-width="2.4" fill="none"/>
<path d="M1346.6 2276H1380V2321H1346.6ZM1372 2320H1421V2350H1372ZM1401 2349H1508V2392.6H1401ZM1456.5 2390H1515V2464.3H1456.5Z" fill="#c0c0c0"/>
<path d="M1323 2260l1.2 37 1.1 -37 1 0 1.2 0 1.2 0 1.2 37 1 -37 1.1 37 1.1 0 1.3 -37 1 0 0.9 37 1 0 1.1 0 1.3 0 1.2 -37 1 0 1.2 37 0.9 -37" fill="none" stroke="#c0c0c0" stroke-width="2.2" stroke-linejoin="miter"/>
<path d="M1361 2320V2352" stroke="#c0c0c0" stroke-width="6" fill="none"/>
<path d="M1426.7 2320V2350M1433.5 2320V2350M1441 2320V2350M1448 2320V2350M1454.6 2320V2350" stroke="#c0c0c0" stroke-width="4" fill="none"/>
<path d="M1433.2 2392V2464.5M1441.9 2392V2464.5M1446.9 2392V2464.5M1451.3 2392V2464.5" stroke="#c0c0c0" stroke-width="4.5" fill="none"/>
<path d="M706.5 2085.5l8 -1.4 8 -1.3 8 -1.1 8 -0.9 8 -0.6 8 -0.4 8 -0.2 8 -0.2 8 -0.2 8 -0.1 8 -0.1 8 0 8 0.2 8 0.5 8 0.6 8 0.7 8 0.8 8 1 8 1.4 8 1.6 8 1.7 8 1.8 8 2 8 2.1 8 2.3 8 2.3 8 2.3 8 2.3 8 2.4 8 2.3 8 2.4 8 2.5 8 2.4 8 2.5 8 2.4 8 2.5 8 2.5 8 2.6 8 2.5 8 2.6 8 2.6 8 2.7 8 2.8 8 2.7 8 2.9 8 2.9 8 3.1 8 3.2 8 3.3 8 3.2 8 3.2 8 3 8 2.9 8 3 8 3.1 3.5 1.4 2.4 0.9 1.9 0.8 1.6 0.8 1.9 0.9 2.5 1 1.5 0.7 2.5 1.4 1.8 0.7 1.9 1 1.8 0.4 2.2 1.6 1.5 0.3 1.5 0.8 1.5 1 2.2 0.3 2 1.3 1.9 1.1 2.3 1.1 2.2 0.9 2.3 0.8 2.4 1.1 1.5 0.8 1.6 1.1 2.1 1.3 2.1 0.2 1.9 1.3 2.1 0.8 1.5 1.3 2.2 2.1 1.7 1.1 2 1.7 1.5 0.7 2 0.2 2.5 1.6 2.4 2.2 2.1 0.8 2.2 1 1.8 1.1 1.6 0.3 2.6 1.2 2.4 0.2 1.7 1.9 1.6 -0.2 2.2 2.8 1.8 -0.4 2.4 1.8 2 1.4 2.5 3.1 2.3 0 2.5 2.3 1.6 2 2.5 1.5 1.6 1 1.6 2.1 1.7 1.7 2.5 0.4 1.4 1.2 1.6 0.1 1.7 1.1 2.2 2.3 2.2 1.4 1.9 -0.8 1.6 -0.1 1.7 1.4 2 2.6 2.3 -2.3 2 2.1 1.6 1.3 2.6 2.9 2 -0.3 1.9 2.2 1.9 0.7 2.1 -1 1.5 3.6 2.4 1.2 2.3 0.6 2.4 2.4 1.8 1.3 2 2.4 2.4 3.1 2.2 0.5 2.3 -0.7 1.7 2 2 2.5 2.3 2.3 1.9 1.9 2.2 0.9 1.7 2.2 1.4 1.2 1.6 1.5 1.9 0.2 2.2 1.1 1.8 1.3 1.8 3.8 2.1 1.1 2.3 -1.5 1.8 4 2.5 1.4 2.4 2.5 1.8 -0.2 2.1 4.3 2 1.7 2.4 -0.2 2 0.1 1.8 4.4 2 0.9 1.9 -0.6 2.3 1.7 2.1 0.6 2.5 2.1 1.5 2 2 1.5 2.6 2 2.5 1.3 1.8 2.6 1.6 0.8 2.5 1.3 1.8 1.3 2.4 0.7 1.9 4.3 1.5 0.7 2.1 1.2 1.8 0.9 1.6 0.4 2.3 1.3 2.2 5.7 1.7 0.1 1.7 -1.8 2.5 7.5 1.8 0.2 2.1 1.5 2.1 -1.5 1.5 3.4 2.6 -1.5 2.5 3.6 1.6 -3.2 2.3 4.9 1.8 0.4 2.4 1.9 1.4 1.8 2.4 -0.8 2 0.2 2.4 4.6 1.5 -3.2 2.2 3.8 1.4 1 1.6 -0.6 1.7 2.1 2 4.9 2.2 -3.9 1.8 5.7 1.9 1.3 2.5 0.8 1.6 -1.6 2.5 8.4 1.6 1 1.9 -0.9 1.9 1.3 2.3 -1.2 0.9 8" fill="none" stroke="#808080" stroke-width="3.0" stroke-linejoin="round"/>
<path d="M1329.6 2282.5H1337V2287.5H1329.6ZM1336.5 2287.5H1343.6V2292.8H1336.5ZM1342.5 2292.8H1351.8V2298.5H1342.5ZM1349.9 2298.5H1361.4V2304.5H1349.9ZM1358.8 2304.5H1370.3V2311H1358.8ZM1368.7 2311H1381.5V2318H1368.7ZM1376.9 2318H1389V2325.5H1376.9ZM1387.1 2325.5H1397.7V2333.4H1387.1ZM1397.1 2333.4H1410.1V2341.8H1397.1ZM1406.2 2341.8H1422.8V2350.7H1406.2ZM1417.8 2350.7H1440.2V2360.3H1417.8ZM1436.7 2360.3H1455.6V2370.8H1436.7ZM1451.5 2370.8H1467.8V2382H1451.5ZM1465.5 2382H1469.6V2393.9H1465.5Z" fill="#808080"/>
<path d="M1469 2384.5H1481V2398H1469ZM1484.8 2398H1504.2V2415.6H1484.8ZM1541.2 2436H1561.7V2463.3H1541.2ZM1556.8 2461.4H1607.4V2497.4H1556.8ZM1608.4 2495H1660V2547.6H1608.4Z" fill="#808080"/>
<path d="M1499.4 2438l1 -22.4 1.4 0 0.9 0 1.1 22.4 0.9 -22.4 1 0 1.1 22.4 1 0 0.9 -22.4 1.2 0 1 0 1.2 22.4 1.1 -22.4 0.9 22.4 1.1 -22.4 1.2 0 1.2 22.4 1.3 -22.4 1.2 0 0.9 0 1.2 0 1.2 22.4 1.3 0 0.9 -22.4 1 22.4" fill="none" stroke="#808080" stroke-width="2.3" stroke-linejoin="miter"/>
<path d="M1571.2 2436V2464M1576.6 2436V2464M1583.3 2436V2464" stroke="#808080" stroke-width="3" fill="none"/>
<path d="M1551.4 2464V2497M1554.6 2464V2497" stroke="#808080" stroke-width="2.5" fill="none"/>
<path d="M1655 2545V2648" stroke="#808080" stroke-width="4" fill="none"/>
<path d="M840 2194l8 -0.9 8 -0.9 8 -0.8 8 -0.7 8 -0.6 8 -0.4 8 -0.2 8 0 8 0 8 0 8 0 8 0 8 0 8 0.1 8 0.4 8 0.6 8 0.7 8 0.9 8 0.9 8 0.9 8 1.1 8 1.3 8 1.4 8 1.6 8 1.8 8 1.9 8 2.1 8 2.1 8 2.2 8 2.2 8 2.4 8 2.4 8 2.6 8 2.6 8 2.6 8 2.7 8 2.8 8 2.9 8 2.8 8 2.7 8 2.7 8 2.8 8 3.1 8 3.7 8 4 8 4.1 8 3.8 8 3.8 8 3.7 8 3.7 8 3.7 8 3.5 8 3.6 8 3.7 8 3.8 8 4 8 4.1 4 2 1.8 0.9 1.9 1 2.5 1.2 2.1 1.1 1.7 0.7 2.1 1 1.4 1 1.7 0.6 2.2 1.1 2 1 1.9 0.9 1.8 1 1.8 0.8 1.8 1.2 2.2 0.6 2.3 1.7 2.5 1.3 1.9 0.8 2.3 0.6 1.8 1.7 1.6 0.4 1.8 1 1.7 1.1 1.5 0.5 1.8 1.9 1.9 0.3 2 1.1 2.6 1.9 2.1 0.9 1.4 1.3 2 0.3 2 2.1 2.1 0.5 2.2 1.8 2.5 0.9 1.9 0.4 2.2 1.5 1.4 1.9 2.1 1.1 1.7 1.3 1.9 0.2 2.5 2.4 1.6 1.5 2.3 0 1.9 2.3 2 0.7 1.5 0.8 2.5 0 2.6 2.2 2 2 1.6 0.2 1.5 1.3 2.6 1.5 1.8 0.8 2.2 1.1 1.9 1.6 1.7 1.7 2.3 0.9 1.6 -0.1 2.4 2.5 1.6 0.7 1.5 0.7 2.1 1.6 2 -0.1 2.5 4 2.4 2 2.5 -0.2 2.4 0.9 1.7 2.6 2.4 1 1.4 1.5 2 -0.8 1.5 2.1 1.6 1.1 1.5 1.8 2.4 1.4 2.5 -0.6 1.8 2.2 1.9 -0.6 2.2 2.6 2.1 0.9 1.6 1.2 2.1 1.4 2.4 1.4 1.6 4.1 1.5 1.6 2.1 0.5 1.8 1.3 1.7 2.4 1.5 -0.4 2 2.5 2 0.9 2.1 2.4 2.5 1.4 1.5 2.5 2.2 -0.8 2.1 1.2 1.6 1.2 2.4 1.1 1.5 1.8 2.4 2.6 1.8 -0.8 2.4 1.4 1.8 1.3 1.8 1.6 2.4 -1.1 2.5 1.6 1.8 -1.7 2.1 4.3 2.5 -0.1 2.2 -0.1 1.7 4.3 2.1 0.1 1.5 0.4 1.9 3.9 2.2 -0.6 1.7 4.7 1.7 1 2.1 6.6 1.4 0.2 1.6 2.2 2.1 -0.8 2.6 2.2 2.1 1.1 2.2 2.9 2.3 -0.1 2.2 1.3 1.5 -2.5 1.8 0.6 1.8 2.9 2.6 2.1 1.9 -3.1 1.9 6.4 1.6 -0.3 1.9 3.4 2.1 1.7 1.8 5.3 2.1 -2.5 1.6 5.8 1.8 -3.3 1.5 4.6 2.3 4.8 1.9 -1.4 2.4 0.5 1.9 0.5 2.6 3.2 1.9 4.4 2.2 3.1 1.9 -1.3 1.5 2.1 2.3 2.5 1.8 -1 1.8 5.9 1.9 1.8 2 -2.5 1.7 0.3 1.8 7.7 1.5 -4 1.5 5.4 2.5 5.6 2 -0.1 1.8 0.3 2.1 1.2 2.1 0.1 2.1 -2.3 2.4 7.1 2.1 2.3 1.7 5.3 2.3 -8.2 2.4 2 1.7 1.1 1.5 -2.4 1.6 5.7 1.6 -6.2 2.3 5.6 2.6 7.9 1.9 -6.1 2.4 4.6 2 -7.2 1.8 14.5 1.6 -4.6 1.8 2.8 1.6 2 0.4 -4.9" fill="none" stroke="#000" stroke-width="3.0" stroke-linejoin="round"/>
<path d="M1518.7 2435.8l1.3 -5 1 0 1.3 0 0.9 5 1 -5 1.2 0 0.9 5 1.3 -5M1525.9 2441.3l1 0 1 -5.5 1.3 5.5 1.3 0M1530.2 2447.2l1 -5.9 1.1 5.9 1.1 -5.9 1.1 5.9 1 0 1.1 0M1535.2 2453.4l1.1 0 1 -6.2 1.3 6.2 1.1 0 0.9 0 1.2 0 1.1 0M1542.2 2460.2l1.1 -6.8 0.9 6.8 1.3 -6.8 0.9 0 1.3 6.8 1.2 -6.8 1.2 0 1.3 0 0.9 6.8 1.2 -6.8 1.2 0 1.1 6.8 1.3 0M1554.7 2468l1 -7.8 1.3 0 0.9 7.8 1.1 -7.8 1 7.8 0.9 -7.8 1.1 7.8 1.1 -7.8 1 0 1.3 7.8 1.1 -7.8 1.2 7.8 1.1 -7.8 1.3 7.8 1.3 0M1567.7 2476.8l1 -8.8 1 0 1.1 8.8 0.9 -8.8 1.2 0 1 8.8 1 0 1 0M1575.3 2486.1l1.3 -9.3 1.1 9.3 1.1 0 1.1 0 1.2 -9.3 0.9 9.3 1.2 -9.3 1.3 0M1584.3 2496.2l1.3 -10.1 1.3 0 1.2 10.1 1.1 -10.1 1.3 0 1.1 10.1 1.2 0 1.2 -10.1 1.3 10.1 1 -10.1 1 0 1.2 10.1M1597.2 2507.2l1.3 -11 1.2 0 1 0 1.3 11 1.2 -11 1.2 11 1 -11 1.1 11 1.1 0 1.1 -11 1.3 11M1605.7 2519.2l1 -12 0.9 12 0.9 -12 1.2 0 1 0 1.2 12 0.9 -12 1.1 12 1 -12 1 12 1.3 0 1.2 0 0.9 0 1.3 -12 1 12 1.1 0 1.1 0M1621.4 2532.3l0.9 0 1 -13.1 1.1 13.1 1.2 0 1.1 -13.1 1 0 1.1 0 1.3 0 1.2 0 1.1 13.1 1.2 0 1.1 -13.1 1.2 13.1 1.3 -13.1 1 0 1.3 13.1 0.9 -13.1 1 13.1 1 -13.1 0.9 13.1 0.9 -13.1 0.9 0 1.1 0 1.2 13.1 1 -13.1 1.1 13.1 0.9 0 1.2 -13.1M1648.9 2547.4l0.9 -15.1 1.2 15.1 1.2 -15.1 1.2 15.1 1.2 0 1.2 0 1.2 -15.1 1.2 15.1 1.1 -15.1 1.1 15.1" fill="none" stroke="#000" stroke-width="2.3" stroke-linejoin="miter"/>
<path d="M1661 2541H1677.5V2560.7H1661ZM1821 2679H1917V2765H1821Z" fill="#000"/>
<path d="M1678.4 2579l0.9 -20.3 1.2 20.3 1.2 0 1.1 -20.3 1.1 20.3 1.2 0 1.2 -20.3 1.3 20.3 1.3 0 1.1 -20.3 1.1 20.3 1 0 1.1 0 1.1 -20.3 1 20.3 0.9 -20.3 1.1 20.3 1 -20.3 1 20.3 1 -20.3 1.1 20.3 1.3 0M1704.7 2577l1 0 1.2 0 1.2 0 1.2 0 1 0 1 0 0.9 0 1.3 0 1 0 1 25.5 1.3 0 1 -25.5 1 25.5 1.3 -25.5 1 25.5 0.9 -25.5 0.9 0 1.2 0 1.1 0 1.3 0 1 25.5 1.3 0 1.1 0 1.3 0 0.9 0 1 -25.5 1 25.5 1.2 -25.5 1 25.5 1.3 0 0.9 0M1740 2635l0.9 -34 1.3 0 1.2 0 1.3 34 0.9 0 1.2 -34 1.2 34 1.1 0 1 -34 1 34 1.3 0 1 0 1 0 1.1 0 1.1 -34 1.2 34 1.3 -34 1.3 34 1 -34 1.3 34 1.2 0 1 -34M1762.7 2681l1.1 -48 1.2 0 1.2 48 1 -48 0.8 48 1 -48 1.1 0 1.2 0 0.9 48 1 0 1.1 -48 1.1 0 1 48 1.2 -48 1.1 48 1 -48 0.9 0 1.4 0 1.3 48 1.1 0 1.2 -48 1 0 1 0 1 48 1 0 1 -48 1.2 0 1.3 48 1.2 -48 0.9 0 1.1 48 1.1 0 1.1 -48 1 48 1.1 -48 1.1 48 0.9 0 1.3 -48 1.2 48 1 -48 1.2 48 1 -48 1 48 1 0 1.1 -48 1.1 48 1 0 1.3 -48 0.9 48 0.9 0 0.9 0 1 -48 1.3 48 1.1 -48 0.9 0 1.2 48 1.3 -48 1.1 0 1.1 48 1.1 0 1.2 -48 1.1 48 1.2 0 1 -48 1.1 0 1.1 48 1.2 0 1 -48 1 48 0.9 -48 1.3 48 0.9 0 1.1 0 1.1 -48 1.1 48 0.9 -48 1.3 0 1.3 48 1.3 -48 1 48" fill="none" stroke="#000" stroke-width="2.3" stroke-linejoin="miter"/>
<path d="M1834.5 2681V2765M1840 2681V2765M1885.5 2681V2702M1908.5 2681V2765" stroke="#fff" stroke-width="1.3" fill="none"/>
</g>
<path d="M451 1182.7l0.8 1.1 0.8 3.2 0.8 -1.5 0.8 -0.2 0.8 -1.3 0.8 4.7 0.8 -6.1 0.8 5.9 0.8 0.8 0.8 -6.7 0.8 4.2 0.8 0.3 0.8 -1.7 0.8 3.4 0.8 -5.7 0.8 5.5 0.8 -2.2 0.8 -0.2 0.8 -3 0.8 0.4 0.8 5.4 0.8 -5.6 0.8 5.7 0.8 -0.5 0.8 -3.9 0.8 1 0.8 -1.8 0.8 -0.7 0.8 -0.1 0.8 3.4 0.8 2.7 0.8 -6.7 0.8 1.5 0.8 2.3 0.8 -3.1 0.8 0.9 2.2 1.9 0.6 -286 0.6 -80.6 0.6 -50.5 0.6 -26.4 0.6 -12.3 0.6 -3.9 0.6 10.7 0.6 16.5 0.6 12.3 0.6 11.6 0.6 11.1 0.6 10.1 0.6 8.8 0.6 7.4 0.9 9.9 0.9 8.8 0.9 7.8 0.9 6.7 0.9 5.8 0.9 5.2 0.9 4.5 0.9 4.1 0.9 3.7 0.9 3.4 0.9 3.3 0.9 3.1 0.9 2.9 0.9 2.9 0.9 2.5 0.9 2.8 0.9 2.3 0.9 2.3 0.9 2.2 0.9 2.4 0.9 1.9 0.9 1.9 0.9 1.8 0.9 2.1 0.9 1.8 0.9 2.1 0.9 1.3 0.9 2 0.9 1.3 0.9 1.5 0.9 1.9 0.9 1.5 0.9 1.3 0.9 1.8 0.9 0.7 0.9 1.8 0.9 0.5 0.9 2.3 0.9 0.4 0.9 1.3 0.9 0.9 0.9 2.2 0.9 0.1 0.9 2 0.9 0.3 0.9 1.1 0.9 0.8 0.9 1.3 0.9 1.1 0.9 2.1 0.9 -0.1 0.9 2.1 0.9 0.1 0.9 1.8 0.9 1.3 0.9 1.4 0.9 0.3 0.9 1.8 0.9 0.7 0.9 0.9 0.9 -0.3 0.9 2.1 0.9 -0.5 0.9 2.8 0.9 0.2 0.9 -0.2 0.9 0.7 0.9 2.7 0.9 -1.6 0.9 1.6 0.9 0.2 0.9 3.3 0.9 0.8 0.9 1.2 0.9 -0.2 0.9 1.1 0.9 1.5 0.9 3.5 0.9 -0.4 0.9 3.1 0.9 -0.1 0.9 2.6 0.9 1.9 0.9 3.9 0.9 -0.8 0.9 4.6 0.9 -0.2 0.9 4.6 0.9 -0.7 0.9 4.5 0.9 0.5 0.9 3.4 0.9 0 0.9 4.1 0.9 -1.3 0.9 4.3 0.9 0 0.9 2 0.9 2.4 0.9 2.9 0.9 1.4 0.9 2.7 0.9 -1.1 0.9 4.4 0.9 -0.5 0.9 4.4 0.9 0 0.9 3.8 0.9 -0.5 0.9 3.7 0.9 0.3 0.9 3.2 0.9 -0.4 0.9 3.7 0.9 0.8 0.9 2.5 0.9 -0.4 0.9 3 0.9 -0.7 0.9 4.3 0.9 1.2 0.9 2.1 0.9 -1.4 0.9 4.4 0.9 -1.7 0.9 2.4 0.9 1.3 0.9 3.5 0.9 -0.5 0.9 4.1 0.9 -0.7 0.9 4.7 0.9 0.6 0.9 0.4 0.9 0.4 0.9 4.5 0.9 -0.9 0.9 3.5 0.9 -0.9 0.9 5.2 0.9 0.1 0.9 0.9 0.9 0.6 0.9 1.4 0.9 0.6 0.9 3.6 0.9 -1.6 0.9 1.8 0.9 2.9 0.9 1.3 0.9 1 0.9 1 0.9 -0.9 0.9 2.6 0.9 0.9 0.9 1.2 0.9 0.6 0.9 1.1 0.9 -1.1 0.9 2.5 0.9 -1.9 0.9 2.3 0.9 0 0.9 1 0.9 1 0.9 3 0.9 0.3 0.9 1.4 0.9 0.9 0.9 0.4 0.9 -0.7 0.9 2.6 0.9 0.6 0.9 1.4 0.9 -1.4 0.9 1.6 0.9 -0.9 0.9 3.2 0.9 1 0.9 -2.1 0.9 1.5 0.9 3.3 0.9 -2.4 0.9 3.6 0.9 -0.6 0.9 1.7 0.9 0.6 0.9 -0.1 0.9 -1.1 0.9 2.8 0.9 -2.7 0.9 4.1 0.9 -1.5 0.9 0.1 0.9 -0.4 0.9 4.2 0.9 -2.6 0.9 3.8 0.9 -1.7 0.9 3.5 0.9 -3 0.9 3.8 0.9 -2.5 0.9 0.5 0.9 2.5 0.9 -1.6 0.9 1.2 0.9 0.5 0.9 0 0.9 0.8 0.9 2 0.9 1.4 0.9 -2.1 0.9 4 0.9 -3.1 0.9 0.2 0.9 3.4 0.9 -2.2 0.9 0.1 0.9 0.9 0.9 -0.2 0.9 1.8 0.9 2.1 0.9 0.9 0.9 -2.4 0.9 0.1 0.9 0.5 0.9 0.8 0.9 0.9 0.9 -0.8 0.9 -0.5 0.9 1.3 0.9 0.4 0.9 3.2 0.9 -2.5 0.9 2.8 0.9 0.8 0.9 -0.2 0.9 -1.9 0.9 2.6 0.9 1 0.9 -2.5 0.9 1.1 0.9 3 0.9 -0.5 0.9 0.1 0.9 -2.1 0.9 2.7 0.9 -2.5 0.9 4.2 0.9 -4.2 0.9 1.6 0.9 -0.3 0.9 4.3 0.9 -2.4 0.9 2.3 0.9 -3.7 0.9 2.9 0.9 0.9 0.9 -0.1 0.9 -3 0.9 4.3 0.9 -0.3 0.9 0.4 0.9 -0.1 0.9 1 0.9 -2.2 0.9 1.5 0.9 -2.2 0.9 3.6 0.9 0 0.9 0.9 0.9 -3.9 0.9 4 0.9 -2.6 0.9 2.4 0.9 -1.9 0.9 2.8 0.9 -1 0.9 2.5 0.9 -3 0.9 -0.6 0.9 2.3 0.9 1.5 0.9 -0.4 0.9 -0.2 0.9 -1.8 0.9 0.5 0.9 -0.3 0.9 1 0.9 1.6 0.9 -2.2 0.9 0.2 0.9 3 0.9 -2 0.9 2.5 0.9 -4 0.9 4.1 0.9 -3 0.9 3.5 0.9 -0.1 0.9 0.3 0.9 -3.4 0.9 3.2 0.9 -2.1 0.9 0.9 0.9 -0.1 0.9 2.7 0.9 -1.7 0.9 2.9 0.9 -1.4 0.9 1 0.9 -2.6 0.9 1.9 0.9 0.8 0.9 -0.1 0.9 -0.2 0.9 0.2 0.9 -1.6 0.9 2.6 0.9 -4 0.9 3.7 0.9 -2.7 0.9 4.5 0.9 -1 0.9 -2.6 0.9 2.1 0.9 1 0.9 -0.6 0.9 0.8 0.9 -2.2 0.9 1.2 0.9 -2.8 0.9 4 0.9 -3 0.9 3.3 0.9 -3 0.9 0.5 0.9 -0.5 0.9 4.4 0.9 -1.8 0.9 0.4 0.9 -1.4 0.9 0.4 0.9 -1.6 0.9 1.4 0.9 0.3 0.9 0.3 0.9 -0.4 0.9 3.9 0.9 -3.7 0.9 2.4 0.9 -2.3 0.9 3.9 0.9 -1.7 0.9 1.9 0.9 -1.1 0.9 0.8 0.9 -2.6 0.9 2.2 0.9 -2.4 0.9 3.9 0.9 -5.2 0.9 4.4 0.9 -1.9 0.9 2.7 0.9 -2.8 0.9 2.1 0.9 -3.1 0.9 4.2 0.9 -0.7 0.9 -0.8 0.9 0.8 0.9 0 0.9 -3.6 0.9 5.4 0.9 -1.5 0.9 -2.2 0.9 -0.8 0.9 4.7 0.9 -4.1 0.9 3.9 0.9 -4.2 0.9 2.5 0.9 -2.1 0.9 3.7 0.9 -0.1 0.9 -2.1 0.9 -0.7 0.9 3.4 0.9 -2.5 0.9 2.9 0.9 -1 0.9 -1.9 0.9 -0.2 0.9 3.5 0.9 -4.6 0.9 3.5 0.9 -3.1 0.9 1 0.9 -0.2 0.9 0 0.9 0.9 0.9 2.1 0.9 -3 0.9 0.2 0.9 2.6 0.9 1.8 0.9 -1.9 0.9 0.6 0.9 -2.8 0.9 3.4 0.9 -3.8 0.9 3 0.9 -3.4 0.9 2.2 0.9 -0.5 0.9 -0.1 0.9 -1.5 0.9 1.3 0.9 -1.2 0.9 4 0.9 -3.2 0.9 3.1 0.9 0.2 0.9 1 0.9 -3.5 0.9 2.4 0.9 -2.5 0.9 3.2 0.9 -2.9 0.9 3.5 0.9 -0.4 0.9 0.3 0.9 -3.1 0.9 0 0.9 -1.4 0.9 4.4 0.9 0.1 0.9 0.8 0.9 -3.3 0.9 2.6 0.9 -4.1 0.9 4.5 0.9 -3.4 0.9 4.1 0.9 -0.7 0.9 -1.2 0.9 -1.9 0.9 2.9 0.9 -0.6 0.9 2.1 0.9 -1.6 0.9 0.4 0.9 0 0.9 0.2 0.9 -3.5 0.9 0.4 0.9 -1.1 0.9 4.8 0.9 -4.7 0.9 5.3 0.9 -1.4 0.9 0 0.9 -2.5 0.9 0.6 0.9 -1.6 0.9 3.3 0.9 -0.8 0.9 1.6 0.9 -3.9 0.9 3.9 0.9 -0.3 0.9 -2 0.9 2 0.9 1 0.9 -4.7 0.9 5.2 0.9 -3.2 0.9 0.6 0.9 -0.1 0.9 2.2 0.9 -1.4 0.9 1.2 0.9 -1.8 0.9 1.9 0.9 -2.3 0.9 1.3 0.9 -2 0.9 4.3 0.9 -1.6 0.9 -0.3 0.9 -2.1 0.9 2.1 0.9 -2.1 0.9 3.4 0.9 -2.1 0.9 2.1 0.9 -3.5 0.9 2.9 0.9 -1.5 0.9 2.7 0.9 -1.4 0.9 0.5 0.9 0.4 0.9 -1.8 0.9 0.9 0.9 -2.2 0.9 2.2 0.9 1.4 0.9 -2.3 0.9 1.4 0.9 -2.6 0.9 4.1 0.9 -3.9 0.9 4.3 0.9 -4.3 0.9 3.2 0.9 -3.7 0.9 3.1 0.9 -2.9 0.9 2.8 0.9 0.9 0.9 -0.3 0.9 -3.7 0.9 3.3 0.9 -3.6 0.9 5.7 0.9 -5.8 0.9 4.6 0.9 -3.1 0.9 4 0.9 -4 0.9 3.2 0.9 -4.4 0.9 1.1 0.9 0.7 0.9 2.9 0.9 -2.3 0.9 2.1 0.9 -2.7 0.9 2.1 0.9 -3.8 0.9 4.5 0.9 -4.1 0.9 5.2 0.9 -3.9 0.9 -0.4 0.9 1.1 0.9 1.9 0.9 -0.2 0.9 0.4 0.9 -1.7 0.9 2.1 0.9 -4.3 0.9 3.5 0.9 -2.5 0.9 1.4 0.9 1.2 0.9 2 0.9 -3.9 0.9 2.1 0.9 -3 0.9 5 0.9 -5.4 0.9 4.9 0.9 -4.4 0.9 3.2 0.9 0.1 0.9 -2.8 0.9 -0.9 0.9 1.1 0.9 2.3 0.9 0.4 0.9 0.3 0.9 -0.1 0.9 -2.8 0.9 4.4 0.9 -4.7 0.9 4 0.9 -5.2 0.9 3.4 0.9 -2.6 0.9 3.8 0.9 -0.4 0.9 0.4 0.9 -2.3 0.9 3.1 0.9 -3.6 0.9 0.5 0.9 -1.6 0.9 1.2 0.9 -1.4 0.9 1.3 0.9 0.1 0.9 2.6 0.9 -2.5 0.9 3.6 0.9 -5.1 0.9 4.8 0.9 -0.6 0.9 -2.8 0.9 2.7 0.9 0.2 0.9 -2.3 0.9 1.8 0.9 -3.8 0.9 5.7 0.9 -5.4 0.9 5.4 0.9 -2 0.9 2.1 0.9 -4.9 0.9 3.8 0.9 -0.1 0.9 0.7 0.9 -3.4 0.9 2.8 0.9 -2.7 0.9 4 0.9 -4.8 0.9 2.3 0.9 -1.6 0.9 3.7 0.9 -4.1 0.9 0.9 0.9 2.6 0.9 -2.8 0.9 -0.6 0.9 1.5 0.9 -0.5 0.9 3 0.9 -3.1 0.9 3.9 0.9 -4.9 0.9 3.6 0.9 -0.4 0.9 -2.4 0.9 2.1 0.9 1.6 0.9 -5 0.9 5.3 0.9 -1.9 0.9 0.9 0.9 -4.4 0.9 1.6 0.9 0.1 0.9 1.9 0.9 -2.6 0.9 3.8 0.9 -0.3 0.9 0.8 0.9 -5.2 0.9 5.5 0.9 -1.8 0.9 1.3 0.9 -4.6 0.9 4.2 0.9 -4.9 0.9 4 0.9 -2.5 0.9 0.3 0.9 -1.6 0.9 5.6 0.9 -3.9 0.9 2.1 0.9 -3 0.9 0.8 0.9 0.1 0.9 2.4 0.9 -3.3 0.9 4.3 0.9 -3.6 0.9 3.4 0.9 -3.3 0.9 2.8 0.9 -3.2 0.9 2.5 0.9 -3.7 0.9 1.7 0.9 -1 0.9 3.2 0.9 -3.6 0.9 5.5 0.9 -3.5 0.9 -0.8 0.9 1.2 0.9 -0.1 0.9 -2.2 0.9 2.5 0.9 1.3 0.9 0 0.9 -2.7 0.9 3.2 0.9 -0.3 0.9 0.4 0.9 -0.3 0.9 0.1 0.9 -3.5 0.9 5.1 0.9 -1.1 0.9 1.2 0.9 -5.3 0.9 0.7 0.9 3.3 0.9 -1.2 0.9 -2.3 0.9 3.1 0.9 -2.8 0.9 3.4 0.9 -2.3 0.9 2.9 0.9 -4.9 0.9 3 0.9 0.4 0.9 -2.2 0.9 -0.3 0.9 3.1 0.9 -4.3 0.9 4.5 0.9 -4.2 0.9 4.9 0.9 -0.9 0.9 0.7 0.9 -0.9 0.9 2 0.9 -1.7 0.9 -0.6 0.9 -3.8 0.9 2.1 0.9 -0.5 0.9 3.2 0.9 -0.2 0.9 -3.2 0.9 -0.5 0.9 3.8 0.9 -3.8 0.9 0.6 0.9 0.2 0.9 -0.5 0.9 0.1 0.9 4.2 0.9 -4.2 0.9 4 0.9 -3.3 0.9 1.5 0.2 -1.4" fill="none" stroke="#000" stroke-width="1.7" stroke-linejoin="round" shape-rendering="geometricPrecision"/>
<path d="M462 2639.4l0.8 -0.5 0.8 -1.7 0.8 4.5 0.8 -6.9 0.8 4.8 0.8 -6.2 0.8 -1 0.8 4.4 0.8 3.7 0.8 1 0.8 -1.6 0.8 -5.5 0.8 5.4 0.8 -1.5 0.8 -2.2 0.8 4.1 0.8 -0.5 0.8 -4.6 0.8 5.1 0.8 -5.1 0.8 -2.8 0.8 1.8 0.8 4.5 0.8 -5.6 0.8 7.7 0.8 -4.8 0.8 1.1 0.6 -234.5 0.6 -135.5 0.6 -86.9 0.6 -56 0.6 -6.2 0.6 30.2 0.6 17.8 0.6 15.1 0.6 15.3 0.6 18.3 0.6 20.5 0.6 20.4 0.6 17.6 0.6 13.5 0.9 16 0.8 13.7 0.9 12.9 0.8 12.7 0.9 12 0.8 11 0.9 9.9 0.8 9 0.9 8.3 0.8 7.9 0.9 7.3 0.8 7 0.9 6.5 0.8 5.9 0.9 5.6 0.8 5.6 0.9 5.3 0.8 5.3 0.9 5.5 0.8 6 0.9 5.3 0.8 6.2 0.9 4.9 0.8 5.8 0.9 5.9 0.8 5.6 0.9 3.8 0.8 5.6 0.9 2.7 0.8 3.7 0.9 3.9 0.8 3.7 0.9 1.5 0.8 4.2 0.9 2.1 0.8 1.4 0.9 3.4 0.8 2.3 0.9 2.2 0.8 2 0.9 0.3 0.8 2.6 0.9 1.5 0.8 4.3 0.9 -0.6 0.8 3.8 0.9 1.6 0.8 2.5 0.9 1.5 0.8 2.2 0.9 -0.2 0.8 1.8 0.9 2 0.8 1.2 0.9 2.9 0.8 2.4 0.9 -1.6 0.8 3.4 0.9 -1 0.8 3.7 0.9 -0.4 0.8 2.9 0.9 -1.3 0.8 3.8 0.9 -0.9 0.8 3.7 0.9 -1.3 0.8 2.8 0.9 1.3 0.8 0.2 0.9 -0.4 0.8 4.2 0.9 -1.9 0.8 2.3 0.9 -0.4 0.8 2.6 0.9 0.7 0.8 1.6 0.9 -1.3 0.8 2 0.9 -0.9 0.8 2.8 0.9 0.7 0.8 -1.4 0.9 -0.5 0.8 5 0.9 -0.3 0.8 -1.3 0.9 -0.6 0.8 2.9 0.9 -1.7 0.8 4.5 0.9 -3.2 0.8 4.7 0.9 -1.7 0.8 2.9 0.9 -3 0.8 5.4 0.9 -3 0.8 4.2 0.9 -2.5 0.8 -0.5 0.9 -0.6 0.8 1.3 0.9 2.3 0.8 -1.9 0.9 1.4 0.8 -0.2 0.9 0 0.8 5 0.9 -5.4 0.8 4.6 0.9 -3.1 0.8 4 0.9 -4 0.8 1.9 0.9 -0.9 0.8 5 0.9 -0.6 0.8 1.8 0.9 -1.6 0.8 1 0.9 -3.7 0.8 4.2 0.9 -0.7 0.8 2.4 0.9 -5.7 0.8 6.4 0.9 -5.3 0.8 5.5 0.9 -4.5 0.8 0 0.9 0.4 0.8 0.4 0.9 -0.9 0.8 1.1 0.9 -1.2 0.8 6.4 0.9 -5 0.8 3.3 0.9 -1 0.8 1.5 0.9 -3.1 0.8 3.3 0.9 -1.6 0.8 2.7 0.9 -0.9 0.8 -0.8 0.9 -0.6 0.8 5.1 0.9 -5.5 0.8 6.7 0.9 -5.1 0.8 4.4 0.9 -6.4 0.8 5.9 0.9 -5.8 0.8 4.8 0.9 -1.5 0.8 3 0.9 -4.2 0.8 3.8 0.9 -2.3 0.8 3.7 0.9 -5.6 0.8 5.8 0.9 -2.5 0.8 4.1 0.9 -5.5 0.8 0.4 0.9 1.1 0.8 2.1 0.9 1.1 0.8 -4.2 0.9 -1.3 0.8 1.6 0.9 -0.1 0.8 0.6 0.9 0.4 0.8 -0.8 0.9 4.2 0.8 -2.5 0.9 1.3 0.8 3.1 0.9 -4.8 0.8 5.4 0.9 -1.4 0.8 0.3 0.9 -6 0.8 1.9 0.9 0 0.8 4.1 0.9 -3.8 0.8 4.9 0.9 -6.7 0.8 6 0.9 -2.4 0.8 2.6 0.9 -3.7 0.8 3.1 0.9 -2.6 0.8 -0.5 0.9 3.9 0.8 2.4 0.9 -7.5 0.8 5.5 0.9 -5.2 0.8 1.3 0.9 0.4 0.8 0.2 0.9 0.2 0.8 5.8 0.9 -3.9 0.8 -0.4 0.9 -3 0.8 6.1 0.9 -0.3 0.8 0.4 0.9 -3.9 0.8 0.4 0.9 -2 0.8 6.8 0.9 -5.1 0.8 6 0.9 -5.5 0.8 4.6 0.9 0.1 0.8 1.6 0.9 -5.5 0.8 4 0.9 -0.3 0.8 1.2 0.9 -1.4 0.8 0.6 0.9 0 0.8 -4.2 0.9 -0.7 0.8 4.8 0.9 -2.4 0.8 4.3 0.9 -6.9 0.8 5.9 0.9 -4.3 0.8 3.6 0.9 0.6 0.8 0.3 0.9 -5.7 0.8 5.3 0.9 1.1 0.8 -3.6 0.9 -2.9 0.8 7.5 0.9 -4.4 0.8 -0.1 0.9 -0.7 0.8 0.7 0.9 -1.7 0.8 7.1 0.9 -1.9 0.8 -0.4 0.9 -3.8 0.8 4.9 0.9 -6.3 0.8 7.1 0.9 -1 0.8 -0.1 0.9 -3.2 0.8 5.6 0.9 -8.2 0.8 6.4 0.9 -4.2 0.8 4.7 0.9 -5 0.8 0.3 0.9 0.2 0.8 -0.3 0.9 4.7 0.8 1 0.9 -1.4 0.8 0.8 0.9 -5.2 0.8 7 0.9 -6.7 0.8 6.4 0.9 -4.5 0.8 2.3 0.9 -3.4 0.8 5.3 0.9 -1.8 0.8 0.7 0.9 -5.5 0.8 2.8 0.9 -1.5 0.8 3.7 0.9 -2.4 0.8 2 0.9 -4.8 0.8 2 0.9 -0.3 0.8 6.6 0.9 -8.2 0.8 5.9 0.9 -3.6 0.8 4.4 0.9 -2.2 0.8 0.1 0.9 -3.3 0.8 6.6 0.9 -4.3 0.8 4.2 0.9 -7.3 0.8 4.4 0.9 1.1 0.8 2 0.9 -3.8 0.8 -2 0.9 -2.2 0.8 7.7 0.9 -0.8 0.8 -4.3 0.9 -0.1 0.8 5.8 0.9 -5.7 0.8 0.9 0.9 3.1 0.8 -3.5 0.9 0.6 0.8 4.4 0.9 -6.8 0.8 4.9 0.9 0.6 0.8 -2.5 0.9 1.9 0.8 1.6 0.9 -6.6 0.8 7.8 0.9 -7.6 0.8 6.2 0.9 -1.7 0.8 -1 0.9 2.6 0.8 2 0.9 -6.6 0.8 6 0.9 -5 0.8 3.3 0.9 -5.2 0.8 5.9 0.9 -3.5 0.8 3.8 0.9 -1.4 0.8 0.7 0.9 0.7 0.8 -0.3 0.9 0.3 0.8 -4.8 0.9 1 0.8 5.4 0.9 -6.8 0.8 5.8 0.9 -7.2 0.8 7.2 0.9 -1.5 0.8 3.2 0.9 -6.1 0.8 -0.7 0.9 0.6 0.8 5.1 0.9 -5 0.8 5.2 0.9 -3.7 0.8 2.7 0.9 0.1 0.8 -1 0.9 -5.9 0.8 1.7 0.9 -0.7 0.8 6.1 0.9 -5.7 0.8 3.8 0.9 -1.8 0.8 4.6 0.9 -5.1 0.8 -1 0.9 -0.7 0.8 4.1 0.9 -2.7 0.8 5.1 0.9 -1.2 0.8 -0.4 0.9 -6.3 0.8 3.7 0.9 -0.4 0.8 3.5 0.9 0.6 0.8 -0.5 0.9 -4.9 0.8 7.4 0.9 -3.7 0.8 2.4 0.9 -7.8 0.8 2.5 0.9 1.6 0.8 4.1 0.9 -7.7 0.8 6.1 0.9 0.6 0.8 -0.2 0.9 -2.1 0.8 4.2 0.9 -5.5 0.8 3.3 0.9 -6.7 0.8 3 0.9 -1.6 0.8 3.4 0.9 -3.5 0.8 5.9 0.9 -5.7 0.8 1.6 0.9 -1.2 0.8 4.4 0.9 -3.1 0.8 6 0.9 -9.2 0.8 6.6 0.9 -5.2 0.8 6.8 0.9 -6.7 0.8 4 0.9 -3.3 0.8 7.1 0.9 -8.9 0.8 7.9 0.9 -1.7 0.8 -0.7 0.9 -5.6 0.8 6 0.9 0.6 0.8 -2 0.9 -1.9 0.8 0.4 0.9 4 0.8 0.6 0.9 -5.8 0.8 6.4 0.9 -6.2 0.8 5.7 0.9 -2.6 0.8 -3.1 0.9 -1.6 0.8 6.8 0.9 -6.9 0.8 6.7 0.9 -1.2 0.8 0.1 0.9 -5.2 0.8 5.5 0.9 -6 0.8 1.4 0.9 0.4 0.8 2.9 0.9 1.6 0.8 0.2 0.9 -1.4 0.8 -2.9 0.9 -1 0.8 4.6 0.9 -4.1 0.8 5.4 0.9 -5.5 0.8 6.4 0.9 -2.9 0.8 -2.3 0.9 -2.9 0.8 6.4 0.9 0.8 0.8 -3.5 0.9 2 0.8 1.6 0.9 -6.4 0.8 8.3 0.9 -8.4 0.8 1.5 0.9 0.7 0.8 5.6 0.9 -8.2 0.8 5.3 0.9 -4.2 0.8 5.1 0.9 -0.7 0.8 1.3 0.9 -0.5 0.8 0.2 0.9 -3 0.8 2.1 0.9 -2.4 0.8 5.1 0.9 -2.7 0.8 3.1 0.9 -2.1 0.8 -0.8 0.9 -3.8 0.8 1.5 0.9 -3.7 0.8 5.5 0.9 -2.1 0.8 -1.6 0.9 -0.8 0.8 4.7 0.9 -3.3 0.8 3 0.9 -5.8 0.8 2.3 0.9 3.9 0.8 -1 0.9 -2.8 0.8 -0.2 0.9 -2.5 0.8 9 0.9 -6.1 0.8 5 0.9 -0.6 0.8 0.7 0.9 -6.4 0.8 5.5 0.9 -5.6 0.8 1.4 0.9 -0.3 0.8 1.2 0.9 -1.9 0.8 6.8 0.9 -6.2 0.8 1 0.9 3.1 0.8 3.3 0.9 -3 0.8 2.5 0.9 -1.8 0.8 0.1 0.9 -0.4 0.8 1.3 0.9 -6 0.8 5.2 0.9 -7.4 0.8 6.4 0.9 -3.8 0.8 3.5 0.9 -4.3 0.8 6.2 0.9 -4.7 0.8 -0.7 0.9 0.3 0.8 6.6 0.9 -4 0.8 3.1 0.9 -5.1 0.8 4.1 0.9 -3.2 0.8 0.6 0.9 -3.6 0.8 7.1 0.9 -8.4 0.8 2.5 0.9 -0.6 0.8 1.4 0.9 -0.8 0.8 3.1 0.9 -6.1 0.8 8.1 0.9 -6.3 0.8 7.5 0.9 -2 0.8 0.4 0.9 -5.9 0.8 0.5 0.9 0.7 0.8 2.5 0.9 -4.7 0.8 3.5 0.9 -2.1 0.8 7.9 0.9 -5.6 0.8 2.5 0.9 -4.2 0.8 -0.6 0.9 5.9 0.8 2.1 0.9 -3.4 0.8 1.8 0.9 -2.3 0.8 0.1 0.9 1.6 0.8 -0.4 0.9 -3.9 0.8 1.3 0.9 3.1 0.8 0.2 0.9 -5.9 0.8 0.9 0.9 0.2 0.8 4.4 0.9 -0.6 0.8 -1.1 0.9 -4.5 0.8 7.7 0.9 -7.1 0.8 4.3 0.9 -4.3 0.8 1.9 0.9 -1.4 0.8 5.2 0.9 -4.7 0.8 5.7 0.9 -8.4 0.8 1.6 0.9 4.3 0.8 0.5 0.9 -3.9 0.8 5.3 0.9 -0.1 0.8 1.8 0.9 -1.9 0.8 -5.4 0.9 0.1 0.8 6.5 0.9 -5.8 0.8 5 0.9 -8.5 0.8 9.8 0.9 -6.1 0.8 4.4 0.9 -2.1 0.8 1.1 0.9 -4.3 0.8 6 0.9 -6.8 0.8 4.7 0.9 -3.5 0.8 6 0.9 -5.9 0.8 -1.2 0.9 -0.9 0.8 6.6 0.9 -0.4 0.8 -0.7 0.9 -4.9 0.8 0.3 0.9 -1.5 0.8 2.7 0.9 0.3 0.8 3.8 0.9 -6.9 0.8 9.8 0.9 -2.2 0.8 -5.1 0.9 -0.5 0.8 3 0.9 -3.9 0.8 8.8 0.9 -3.2 0.8 1.6 0.9 -8.8 0.8 1.9 0.9 0.2 0.8 8.5 0.9 -9.4 0.8 8.6 0.9 -1.6 0.8 -4 0.9 -2.3 0.8 0.1 0.9 6 0.8 -0.3 0.9 -7.3 0.8 6.9 0.9 -1 0.8 -2.7 0.9 3.9 0.8 0 0.9 0.3 0.8 1.9 0.9 -7 0.8 5.2 0.6 -1.1" fill="none" stroke="#000" stroke-width="1.6" stroke-linejoin="round" shape-rendering="geometricPrecision"/>
<text x="224" y="235" font-size="65" text-anchor="end">10<tspan dy="-36" font-size="40">1</tspan></text>
<text x="224" y="467.8" font-size="65" text-anchor="end">10<tspan dy="-36" font-size="40">0</tspan></text>
<text x="224" y="700.5" font-size="65" text-anchor="end">10<tspan dy="-36" font-size="40">-1</tspan></text>
<text x="224" y="933.3" font-size="65" text-anchor="end">10<tspan dy="-36" font-size="40">-2</tspan></text>
<text x="224" y="1166.1" font-size="65" text-anchor="end">10<tspan dy="-36" font-size="40">-3</tspan></text>
<text x="212.6" y="1420" font-size="65">10<tspan dy="-36" font-size="40">-6</tspan></text>
<text x="614.2" y="1420" font-size="65">10<tspan dy="-36" font-size="40">-5</tspan></text>
<text x="1015.8" y="1420" font-size="65">10<tspan dy="-36" font-size="40">-4</tspan></text>
<text x="1417.4" y="1420" font-size="65">10<tspan dy="-36" font-size="40">-3</tspan></text>
<text x="1819" y="1420" font-size="65">10<tspan dy="-36" font-size="40">-2</tspan></text>
<text x="232" y="1627.1" font-size="65" text-anchor="end">10<tspan dy="-36" font-size="40">1</tspan></text>
<text x="232" y="1865.5" font-size="65" text-anchor="end">10<tspan dy="-36" font-size="40">0</tspan></text>
<text x="232" y="2103.9" font-size="65" text-anchor="end">10<tspan dy="-36" font-size="40">-1</tspan></text>
<text x="232" y="2342.3" font-size="65" text-anchor="end">10<tspan dy="-36" font-size="40">-2</tspan></text>
<text x="232" y="2580.7" font-size="65" text-anchor="end">10<tspan dy="-36" font-size="40">-3</tspan></text>
<text x="313.4" y="2875" font-size="65">10<tspan dy="-36" font-size="40">-6</tspan></text>
<text x="753.8" y="2875" font-size="65">10<tspan dy="-36" font-size="40">-5</tspan></text>
<text x="1194.2" y="2875" font-size="65">10<tspan dy="-36" font-size="40">-4</tspan></text>
<text x="1634.6" y="2875" font-size="65">10<tspan dy="-36" font-size="40">-3</tspan></text>
<text transform="translate(85.3,949.5) rotate(-90)" font-size="76.6" xml:space="preserve">-<tspan font-style="italic">dU/dt</tspan>  (a.u.)</text>
<text x="1182" y="1480.5" font-size="75" xml:space="preserve"><tspan font-style="italic">t</tspan>   (s)</text>
<text transform="translate(97.3,2396.5) rotate(-90)" font-size="75" textLength="398" lengthAdjust="spacing" xml:space="preserve">-d<tspan font-style="italic">U</tspan>/d<tspan font-style="italic">t</tspan> (a.u.)</text>
<text x="1012" y="2923.5" font-size="75" xml:space="preserve"><tspan font-style="italic">t</tspan> (s)</text>
<text x="325" y="137" font-size="70" text-anchor="start">a)</text>
<text x="413.5" y="1594.5" font-size="73" text-anchor="start">b)</text>
<text x="795" y="143.5" font-size="65" textLength="802" lengthAdjust="spacingAndGlyphs" xml:space="preserve"><tspan font-weight="bold">CTM2</tspan> + (PC-Z), 1:1, <tspan font-style="italic">d</tspan>=9<tspan font-family='"Liberation Serif", serif'>µ</tspan>m</text>
<text x="1845" y="147" font-size="65" textLength="192" lengthAdjust="spacingAndGlyphs" xml:space="preserve"><tspan font-style="italic">t</tspan>=25<tspan dy="-33" font-size="40">o</tspan><tspan dy="33">C</tspan></text>
<text x="873" y="1615.5" font-size="65" textLength="768" lengthAdjust="spacingAndGlyphs" xml:space="preserve"><tspan font-weight="bold">CTM3</tspan>+PC-Z, 1:1, <tspan font-style="italic">d</tspan>=5.4<tspan font-family='"Liberation Serif", serif'>µ</tspan>m</text>
<text x="1808" y="1634.5" font-size="65" textLength="208" lengthAdjust="spacingAndGlyphs" xml:space="preserve"><tspan font-style="italic">t</tspan> =25<tspan dy="-33" font-size="40">o</tspan><tspan dy="33">C</tspan></text>
<text x="1817.5" y="1052" font-size="60" text-anchor="start">UV flash</text>
<text x="1816" y="2490" font-size="60" text-anchor="start">UV flash</text>
<rect x="1660.5" y="265" width="435" height="705.3" fill="#fff" stroke="#000" stroke-width="3"/>
<path d="M1692 342H1842" stroke="#c0c0c0" stroke-width="3" fill="none"/>
<text x="2065.5" y="364.6" font-size="65" text-anchor="end">1060 V</text>
<path d="M1711 422H1860" stroke="#808080" stroke-width="3" fill="none"/>
<text x="2048.6" y="444.6" font-size="65" text-anchor="end">892 V</text>
<path d="M1711 502.5H1860" stroke="#000" stroke-width="3" fill="none"/>
<text x="2048.6" y="525.1" font-size="65" text-anchor="end">644 V</text>
<path d="M1711 583.5H1860" stroke="#c0c0c0" stroke-width="3" fill="none"/>
<text x="2048.6" y="606.1" font-size="65" text-anchor="end">460 V</text>
<path d="M1711 663H1860" stroke="#808080" stroke-width="3" fill="none"/>
<text x="2048.6" y="685.6" font-size="65" text-anchor="end">360 V</text>
<path d="M1711 743H1860" stroke="#000" stroke-width="3" fill="none"/>
<text x="2048.6" y="765.6" font-size="65" text-anchor="end">240 V</text>
<path d="M1711 823.5H1860" stroke="#c0c0c0" stroke-width="3" fill="none"/>
<text x="2048.6" y="846.1" font-size="65" text-anchor="end">178 V</text>
<path d="M1729 904.3H1878" stroke="#808080" stroke-width="3" fill="none"/>
<text x="2029.4" y="926.9" font-size="65" text-anchor="end">90 V</text>
<text x="1576" y="337.7" font-size="54"><tspan font-style="italic">U</tspan><tspan dy="21" font-size="30">0</tspan><tspan dy="-21">:</tspan></text>
<rect x="1645.4" y="1752.6" width="387.8" height="609.1" fill="#fff" stroke="#000" stroke-width="3"/>
<path d="M1674 1824.1H1821" stroke="#000" stroke-width="3" fill="none"/>
<text x="2007" y="1846.9" font-size="65" text-anchor="end">750 V</text>
<path d="M1674 1903.9H1821" stroke="#c0c0c0" stroke-width="3" fill="none"/>
<text x="2007" y="1926.7" font-size="65" text-anchor="end">690 V</text>
<path d="M1674 1982.9H1821" stroke="#808080" stroke-width="3" fill="none"/>
<text x="2007" y="2005.7" font-size="65" text-anchor="end">596 V</text>
<path d="M1674 2062.6H1821" stroke="#000" stroke-width="3" fill="none"/>
<text x="2007" y="2085.4" font-size="65" text-anchor="end">520 V</text>
<path d="M1674 2140.9H1821" stroke="#c0c0c0" stroke-width="3" fill="none"/>
<text x="2007" y="2163.7" font-size="65" text-anchor="end">488 V</text>
<path d="M1674 2221.4H1821" stroke="#808080" stroke-width="3" fill="none"/>
<text x="2007" y="2244.2" font-size="65" text-anchor="end">392 V</text>
<path d="M1674 2300.4H1821" stroke="#000" stroke-width="3" fill="none"/>
<text x="2007" y="2323.2" font-size="65" text-anchor="end">316 V</text>
<text x="1546" y="1833.2" font-size="65"><tspan font-style="italic">U</tspan><tspan dy="24" font-size="36">0</tspan><tspan dy="-24">:</tspan></text>
<path d="M562.5 847V900" stroke="#000" stroke-width="4" fill="none"/>
<path d="M552.5 898L572.5 898L562.5 930Z" fill="#000"/>
<path d="M740.3 1607.5V1645.5" stroke="#000" stroke-width="5.5" fill="none"/>
<path d="M730.6 1643.5L750 1643.5L740.3 1674.5Z" fill="#000"/>
</svg></body></html>
